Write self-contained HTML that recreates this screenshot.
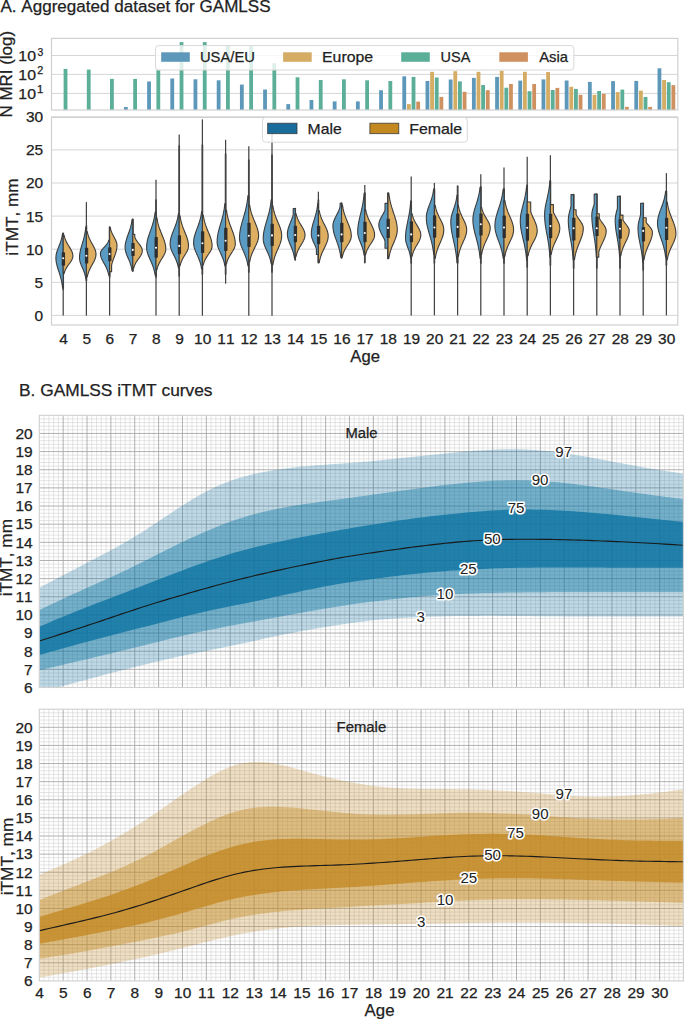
<!DOCTYPE html><html><head><meta charset="utf-8"><style>html,body{margin:0;padding:0;background:#fff;}svg{display:block;}text{font-family:"Liberation Sans", sans-serif;font-kerning:none;} text.s{stroke:#222;stroke-width:0.25px;}</style></head><body>
<svg width="685" height="1019" viewBox="0 0 685 1019">
<rect width="685" height="1019" fill="#fff"/>
<text class="s" x="0.47" y="11.8" font-size="16.3" fill="#222" textLength="270.12" lengthAdjust="spacingAndGlyphs">A. Aggregated dataset for GAMLSS</text>
<line x1="51.5" y1="55.5" x2="677.8" y2="55.5" stroke="#d6d6d6" stroke-width="1"/>
<line x1="51.5" y1="74.4" x2="677.8" y2="74.4" stroke="#d6d6d6" stroke-width="1"/>
<line x1="51.5" y1="93.4" x2="677.8" y2="93.4" stroke="#d6d6d6" stroke-width="1"/>
<rect x="63.62" y="68.9" width="3.8" height="41.1" fill="#5bae97"/>
<rect x="86.82" y="69.6" width="3.8" height="40.4" fill="#5bae97"/>
<rect x="110.02" y="78.9" width="3.8" height="31.1" fill="#5bae97"/>
<rect x="123.94" y="107" width="3.8" height="3" fill="#5d98ba"/>
<rect x="133.22" y="78.9" width="3.8" height="31.1" fill="#5bae97"/>
<rect x="147.14" y="81.5" width="3.8" height="28.5" fill="#5d98ba"/>
<rect x="156.42" y="70.2" width="3.8" height="39.8" fill="#5bae97"/>
<rect x="170.34" y="78.5" width="3.8" height="31.5" fill="#5d98ba"/>
<rect x="179.62" y="42.1" width="3.8" height="67.9" fill="#5bae97"/>
<rect x="193.54" y="79.3" width="3.8" height="30.7" fill="#5d98ba"/>
<rect x="202.82" y="42.1" width="3.8" height="67.9" fill="#5bae97"/>
<rect x="216.74" y="80.3" width="3.8" height="29.7" fill="#5d98ba"/>
<rect x="226.02" y="45.2" width="3.8" height="64.8" fill="#5bae97"/>
<rect x="239.94" y="84.6" width="3.8" height="25.4" fill="#5d98ba"/>
<rect x="249.22" y="46.2" width="3.8" height="63.8" fill="#5bae97"/>
<rect x="263.14" y="89.5" width="3.8" height="20.5" fill="#5d98ba"/>
<rect x="272.42" y="63.2" width="3.8" height="46.8" fill="#5bae97"/>
<rect x="286.34" y="104.1" width="3.8" height="5.9" fill="#5d98ba"/>
<rect x="295.62" y="77.3" width="3.8" height="32.7" fill="#5bae97"/>
<rect x="309.54" y="100" width="3.8" height="10" fill="#5d98ba"/>
<rect x="318.82" y="80" width="3.8" height="30" fill="#5bae97"/>
<rect x="332.74" y="101.4" width="3.8" height="8.6" fill="#5d98ba"/>
<rect x="342.02" y="79.3" width="3.8" height="30.7" fill="#5bae97"/>
<rect x="355.94" y="101.4" width="3.8" height="8.6" fill="#5d98ba"/>
<rect x="365.22" y="80.3" width="3.8" height="29.7" fill="#5bae97"/>
<rect x="379.14" y="90.2" width="3.8" height="19.8" fill="#5d98ba"/>
<rect x="388.42" y="81" width="3.8" height="29" fill="#5bae97"/>
<rect x="402.34" y="76.3" width="3.8" height="33.7" fill="#5d98ba"/>
<rect x="406.98" y="104.1" width="3.8" height="5.9" fill="#d5ac63"/>
<rect x="411.62" y="76.9" width="3.8" height="33.1" fill="#5bae97"/>
<rect x="416.26" y="101.6" width="3.8" height="8.4" fill="#cf915f"/>
<rect x="425.54" y="81" width="3.8" height="29" fill="#5d98ba"/>
<rect x="430.18" y="71.8" width="3.8" height="38.2" fill="#d5ac63"/>
<rect x="434.82" y="77.5" width="3.8" height="32.5" fill="#5bae97"/>
<rect x="439.46" y="96.9" width="3.8" height="13.1" fill="#cf915f"/>
<rect x="448.74" y="79.5" width="3.8" height="30.5" fill="#5d98ba"/>
<rect x="453.38" y="71.2" width="3.8" height="38.8" fill="#d5ac63"/>
<rect x="458.02" y="81.4" width="3.8" height="28.6" fill="#5bae97"/>
<rect x="462.66" y="91.8" width="3.8" height="18.2" fill="#cf915f"/>
<rect x="471.94" y="77.9" width="3.8" height="32.1" fill="#5d98ba"/>
<rect x="476.58" y="71.8" width="3.8" height="38.2" fill="#d5ac63"/>
<rect x="481.22" y="85" width="3.8" height="25" fill="#5bae97"/>
<rect x="485.86" y="90.2" width="3.8" height="19.8" fill="#cf915f"/>
<rect x="495.14" y="76.9" width="3.8" height="33.1" fill="#5d98ba"/>
<rect x="499.78" y="70.7" width="3.8" height="39.3" fill="#d5ac63"/>
<rect x="504.42" y="87.7" width="3.8" height="22.3" fill="#5bae97"/>
<rect x="509.06" y="84" width="3.8" height="26" fill="#cf915f"/>
<rect x="518.34" y="80.6" width="3.8" height="29.4" fill="#5d98ba"/>
<rect x="522.98" y="71.8" width="3.8" height="38.2" fill="#d5ac63"/>
<rect x="527.62" y="91.2" width="3.8" height="18.8" fill="#5bae97"/>
<rect x="532.26" y="84" width="3.8" height="26" fill="#cf915f"/>
<rect x="541.54" y="79.4" width="3.8" height="30.6" fill="#5d98ba"/>
<rect x="546.18" y="72" width="3.8" height="38" fill="#d5ac63"/>
<rect x="550.82" y="90" width="3.8" height="20" fill="#5bae97"/>
<rect x="555.46" y="87.9" width="3.8" height="22.1" fill="#cf915f"/>
<rect x="564.74" y="80.5" width="3.8" height="29.5" fill="#5d98ba"/>
<rect x="569.38" y="86.8" width="3.8" height="23.2" fill="#d5ac63"/>
<rect x="574.02" y="88.9" width="3.8" height="21.1" fill="#5bae97"/>
<rect x="578.66" y="94.8" width="3.8" height="15.2" fill="#cf915f"/>
<rect x="587.94" y="81.9" width="3.8" height="28.1" fill="#5d98ba"/>
<rect x="592.58" y="94.8" width="3.8" height="15.2" fill="#d5ac63"/>
<rect x="597.22" y="91" width="3.8" height="19" fill="#5bae97"/>
<rect x="601.86" y="93.8" width="3.8" height="16.2" fill="#cf915f"/>
<rect x="611.14" y="81.1" width="3.8" height="28.9" fill="#5d98ba"/>
<rect x="615.78" y="92.1" width="3.8" height="17.9" fill="#d5ac63"/>
<rect x="620.42" y="89.6" width="3.8" height="20.4" fill="#5bae97"/>
<rect x="625.06" y="106.9" width="3.8" height="3.1" fill="#cf915f"/>
<rect x="634.34" y="80.9" width="3.8" height="29.1" fill="#5d98ba"/>
<rect x="638.98" y="90.6" width="3.8" height="19.4" fill="#d5ac63"/>
<rect x="643.62" y="97" width="3.8" height="13" fill="#5bae97"/>
<rect x="648.26" y="106.9" width="3.8" height="3.1" fill="#cf915f"/>
<rect x="657.54" y="68.3" width="3.8" height="41.7" fill="#5d98ba"/>
<rect x="662.18" y="80" width="3.8" height="30" fill="#d5ac63"/>
<rect x="666.82" y="82.2" width="3.8" height="27.8" fill="#5bae97"/>
<rect x="671.46" y="85.1" width="3.8" height="24.9" fill="#cf915f"/>
<rect x="51.5" y="38.4" width="626.3" height="71.6" fill="none" stroke="#d0d0d0" stroke-width="1.2"/>
<rect x="155.5" y="45.6" width="418.4" height="24.4" rx="3" fill="#fff" fill-opacity="0.8" stroke="#d8d8d8" stroke-width="1"/>
<rect x="161.2" y="52.3" width="28.6" height="9.5" fill="#5d98ba"/>
<text class="s" x="199.96" y="61.8" font-size="14.6" fill="#222" textLength="54.98" lengthAdjust="spacingAndGlyphs">USA/EU</text>
<rect x="283.1" y="52.3" width="28.6" height="9.5" fill="#d5ac63"/>
<text class="s" x="322" y="61.8" font-size="14.6" fill="#222" textLength="51.1" lengthAdjust="spacingAndGlyphs">Europe</text>
<rect x="401.2" y="52.3" width="28.6" height="9.5" fill="#5bae97"/>
<text class="s" x="440.58" y="61.8" font-size="14.6" fill="#222" textLength="29.74" lengthAdjust="spacingAndGlyphs">USA</text>
<rect x="499.3" y="52.3" width="28.6" height="9.5" fill="#cf915f"/>
<text class="s" x="539.17" y="61.8" font-size="14.6" fill="#222" textLength="28.83" lengthAdjust="spacingAndGlyphs">Asia</text>
<text class="s" x="18.39" y="61.4" font-size="14.1" fill="#222" textLength="17.63" lengthAdjust="spacingAndGlyphs">10</text>
<text class="s" x="37.41" y="55.7" font-size="10" fill="#222" textLength="5.75" lengthAdjust="spacingAndGlyphs">3</text>
<text class="s" x="18.39" y="80" font-size="14.1" fill="#222" textLength="17.63" lengthAdjust="spacingAndGlyphs">10</text>
<text class="s" x="37.26" y="74.3" font-size="10" fill="#222" textLength="5.98" lengthAdjust="spacingAndGlyphs">2</text>
<text class="s" x="18.39" y="98.8" font-size="14.1" fill="#222" textLength="17.63" lengthAdjust="spacingAndGlyphs">10</text>
<text class="s" x="36.93" y="93.1" font-size="10" fill="#222" textLength="6.32" lengthAdjust="spacingAndGlyphs">1</text>
<text class="s" transform="translate(11.87,117.39) rotate(-90)" x="0" y="0" font-size="16.5" fill="#222" textLength="86.44" lengthAdjust="spacingAndGlyphs">N MRI (log)</text>
<line x1="51.5" y1="315.4" x2="677.8" y2="315.4" stroke="#d6d6d6" stroke-width="1"/>
<text class="s" x="43.2" y="320.8" font-size="14.2" text-anchor="end" fill="#222" textLength="8.6" lengthAdjust="spacingAndGlyphs">0</text>
<line x1="51.5" y1="282.3" x2="677.8" y2="282.3" stroke="#d6d6d6" stroke-width="1"/>
<text class="s" x="43.2" y="287.7" font-size="14.2" text-anchor="end" fill="#222" textLength="8.6" lengthAdjust="spacingAndGlyphs">5</text>
<line x1="51.5" y1="249.2" x2="677.8" y2="249.2" stroke="#d6d6d6" stroke-width="1"/>
<text class="s" x="43.2" y="254.6" font-size="14.2" text-anchor="end" fill="#222" textLength="17.2" lengthAdjust="spacingAndGlyphs">10</text>
<line x1="51.5" y1="216.1" x2="677.8" y2="216.1" stroke="#d6d6d6" stroke-width="1"/>
<text class="s" x="43.2" y="221.5" font-size="14.2" text-anchor="end" fill="#222" textLength="17.2" lengthAdjust="spacingAndGlyphs">15</text>
<line x1="51.5" y1="183" x2="677.8" y2="183" stroke="#d6d6d6" stroke-width="1"/>
<text class="s" x="43.2" y="188.4" font-size="14.2" text-anchor="end" fill="#222" textLength="17.2" lengthAdjust="spacingAndGlyphs">20</text>
<line x1="51.5" y1="149.9" x2="677.8" y2="149.9" stroke="#d6d6d6" stroke-width="1"/>
<text class="s" x="43.2" y="155.3" font-size="14.2" text-anchor="end" fill="#222" textLength="17.2" lengthAdjust="spacingAndGlyphs">25</text>
<line x1="51.5" y1="116.8" x2="677.8" y2="116.8" stroke="#d6d6d6" stroke-width="1"/>
<text class="s" x="43.2" y="122.2" font-size="14.2" text-anchor="end" fill="#222" textLength="17.2" lengthAdjust="spacingAndGlyphs">30</text>
<text class="s" transform="translate(18.32,255.65) rotate(-90)" x="0" y="0" font-size="16.5" fill="#222" textLength="77.18" lengthAdjust="spacingAndGlyphs">iTMT, mm</text>
<text class="s" x="63.5" y="344.2" font-size="14.2" text-anchor="middle" fill="#222" textLength="8.6" lengthAdjust="spacingAndGlyphs">4</text>
<text class="s" x="86.7" y="344.2" font-size="14.2" text-anchor="middle" fill="#222" textLength="8.6" lengthAdjust="spacingAndGlyphs">5</text>
<text class="s" x="109.9" y="344.2" font-size="14.2" text-anchor="middle" fill="#222" textLength="8.6" lengthAdjust="spacingAndGlyphs">6</text>
<text class="s" x="133.1" y="344.2" font-size="14.2" text-anchor="middle" fill="#222" textLength="8.6" lengthAdjust="spacingAndGlyphs">7</text>
<text class="s" x="156.3" y="344.2" font-size="14.2" text-anchor="middle" fill="#222" textLength="8.6" lengthAdjust="spacingAndGlyphs">8</text>
<text class="s" x="179.5" y="344.2" font-size="14.2" text-anchor="middle" fill="#222" textLength="8.6" lengthAdjust="spacingAndGlyphs">9</text>
<text class="s" x="202.7" y="344.2" font-size="14.2" text-anchor="middle" fill="#222" textLength="17.2" lengthAdjust="spacingAndGlyphs">10</text>
<text class="s" x="225.9" y="344.2" font-size="14.2" text-anchor="middle" fill="#222" textLength="17.2" lengthAdjust="spacingAndGlyphs">11</text>
<text class="s" x="249.1" y="344.2" font-size="14.2" text-anchor="middle" fill="#222" textLength="17.2" lengthAdjust="spacingAndGlyphs">12</text>
<text class="s" x="272.3" y="344.2" font-size="14.2" text-anchor="middle" fill="#222" textLength="17.2" lengthAdjust="spacingAndGlyphs">13</text>
<text class="s" x="295.5" y="344.2" font-size="14.2" text-anchor="middle" fill="#222" textLength="17.2" lengthAdjust="spacingAndGlyphs">14</text>
<text class="s" x="318.7" y="344.2" font-size="14.2" text-anchor="middle" fill="#222" textLength="17.2" lengthAdjust="spacingAndGlyphs">15</text>
<text class="s" x="341.9" y="344.2" font-size="14.2" text-anchor="middle" fill="#222" textLength="17.2" lengthAdjust="spacingAndGlyphs">16</text>
<text class="s" x="365.1" y="344.2" font-size="14.2" text-anchor="middle" fill="#222" textLength="17.2" lengthAdjust="spacingAndGlyphs">17</text>
<text class="s" x="388.3" y="344.2" font-size="14.2" text-anchor="middle" fill="#222" textLength="17.2" lengthAdjust="spacingAndGlyphs">18</text>
<text class="s" x="411.5" y="344.2" font-size="14.2" text-anchor="middle" fill="#222" textLength="17.2" lengthAdjust="spacingAndGlyphs">19</text>
<text class="s" x="434.7" y="344.2" font-size="14.2" text-anchor="middle" fill="#222" textLength="17.2" lengthAdjust="spacingAndGlyphs">20</text>
<text class="s" x="457.9" y="344.2" font-size="14.2" text-anchor="middle" fill="#222" textLength="17.2" lengthAdjust="spacingAndGlyphs">21</text>
<text class="s" x="481.1" y="344.2" font-size="14.2" text-anchor="middle" fill="#222" textLength="17.2" lengthAdjust="spacingAndGlyphs">22</text>
<text class="s" x="504.3" y="344.2" font-size="14.2" text-anchor="middle" fill="#222" textLength="17.2" lengthAdjust="spacingAndGlyphs">23</text>
<text class="s" x="527.5" y="344.2" font-size="14.2" text-anchor="middle" fill="#222" textLength="17.2" lengthAdjust="spacingAndGlyphs">24</text>
<text class="s" x="550.7" y="344.2" font-size="14.2" text-anchor="middle" fill="#222" textLength="17.2" lengthAdjust="spacingAndGlyphs">25</text>
<text class="s" x="573.9" y="344.2" font-size="14.2" text-anchor="middle" fill="#222" textLength="17.2" lengthAdjust="spacingAndGlyphs">26</text>
<text class="s" x="597.1" y="344.2" font-size="14.2" text-anchor="middle" fill="#222" textLength="17.2" lengthAdjust="spacingAndGlyphs">27</text>
<text class="s" x="620.3" y="344.2" font-size="14.2" text-anchor="middle" fill="#222" textLength="17.2" lengthAdjust="spacingAndGlyphs">28</text>
<text class="s" x="643.5" y="344.2" font-size="14.2" text-anchor="middle" fill="#222" textLength="17.2" lengthAdjust="spacingAndGlyphs">29</text>
<text class="s" x="666.7" y="344.2" font-size="14.2" text-anchor="middle" fill="#222" textLength="17.2" lengthAdjust="spacingAndGlyphs">30</text>
<text class="s" x="350.37" y="362" font-size="16.3" fill="#222" textLength="29.67" lengthAdjust="spacingAndGlyphs">Age</text>
<line x1="63.2" y1="233.3" x2="63.2" y2="315.6" stroke="#444" stroke-width="1.25"/>
<line x1="63.2" y1="233.3" x2="63.2" y2="289.3" stroke="#444" stroke-width="1.7" stroke-linecap="round"/>
<path d="M63.2,233.3L62.55,233.3 62.33,234.83 62.06,236.36 61.72,237.89 61.33,239.43 60.87,240.96 60.36,242.49 59.81,244.02 59.21,245.55 58.61,247.08 58.01,248.61 57.44,250.14 56.92,251.68 56.5,253.21 56.17,254.74 55.97,256.27 55.9,257.8 55.97,259.66 56.17,261.53 56.5,263.39 56.92,265.25 57.44,267.11 58.01,268.98 58.61,270.84 59.21,272.7 59.81,274.56 60.36,276.43 60.87,278.29 61.33,280.15 61.72,282.01 62.06,283.88 62.33,285.74 62.55,287.6 L63.2,287.6Z" fill="#5a9bc4" stroke="#3c3c3c" stroke-width="1.1" stroke-linejoin="round"/>
<path d="M63.2,235L64.06,235 64.36,236.31 64.72,237.62 65.16,238.94 65.69,240.25 66.29,241.56 66.97,242.88 67.71,244.19 68.5,245.5 69.3,246.81 70.1,248.12 70.86,249.44 71.54,250.75 72.11,252.06 72.54,253.38 72.81,254.69 72.9,256 72.81,257.1 72.54,258.2 72.11,259.3 71.54,260.4 70.86,261.5 70.1,262.6 69.3,263.7 68.5,264.8 67.71,265.9 66.97,267 66.29,268.1 65.69,269.2 65.16,270.3 64.72,271.4 64.36,272.5 64.06,273.6 L63.2,273.6Z" fill="#deaf60" stroke="#3c3c3c" stroke-width="1.1" stroke-linejoin="round"/>
<rect x="61.75" y="252.2" width="3.3" height="13.5" rx="0.7" fill="#2e2e2e"/>
<circle cx="63.2" cy="258.3" r="1.05" fill="#fff"/>
<line x1="86.4" y1="202.1" x2="86.4" y2="315.6" stroke="#444" stroke-width="1.25"/>
<line x1="86.4" y1="226" x2="86.4" y2="280.6" stroke="#444" stroke-width="1.7" stroke-linecap="round"/>
<path d="M86.4,227.2L85.79,227.2 85.58,229.11 85.32,231.02 85,232.94 84.63,234.85 84.2,236.76 83.72,238.68 83.19,240.59 82.63,242.5 82.06,244.41 81.49,246.32 80.95,248.24 80.47,250.15 80.06,252.06 79.76,253.98 79.56,255.89 79.5,257.8 79.56,259.11 79.76,260.43 80.06,261.74 80.47,263.05 80.95,264.36 81.49,265.68 82.06,266.99 82.63,268.3 83.19,269.61 83.72,270.93 84.2,272.24 84.63,273.55 85,274.86 85.32,276.18 85.58,277.49 85.79,278.8 L86.4,278.8Z" fill="#5a9bc4" stroke="#3c3c3c" stroke-width="1.1" stroke-linejoin="round"/>
<path d="M86.4,231.5L87.25,231.5 87.54,232.93 87.91,234.35 88.34,235.78 88.86,237.2 89.46,238.62 90.13,240.05 90.86,241.47 91.64,242.9 92.44,244.33 93.23,245.75 93.98,247.18 94.65,248.6 95.22,250.03 95.64,251.45 95.91,252.88 96,254.3 95.91,255.72 95.64,257.14 95.22,258.56 94.65,259.98 93.98,261.39 93.23,262.81 92.44,264.23 91.64,265.65 90.86,267.07 90.13,268.49 89.46,269.91 88.86,271.32 88.34,272.74 87.91,274.16 87.54,275.58 87.25,277 L86.4,277Z" fill="#deaf60" stroke="#3c3c3c" stroke-width="1.1" stroke-linejoin="round"/>
<rect x="84.95" y="247.7" width="3.3" height="15.7" rx="0.7" fill="#2e2e2e"/>
<circle cx="86.4" cy="255.7" r="1.05" fill="#fff"/>
<line x1="109.6" y1="227.2" x2="109.6" y2="315.6" stroke="#444" stroke-width="1.25"/>
<line x1="109.6" y1="227" x2="109.6" y2="277" stroke="#444" stroke-width="1.7" stroke-linecap="round"/>
<path d="M109.6,240.3L108.78,240.3 108.5,241.12 108.16,241.94 107.74,242.76 107.24,243.58 106.67,244.39 106.03,245.21 105.32,246.03 104.58,246.85 103.81,247.67 103.05,248.49 102.34,249.31 101.69,250.12 101.15,250.94 100.74,251.76 100.49,252.58 100.4,253.4 100.49,254.77 100.74,256.14 101.15,257.51 101.69,258.88 102.34,260.24 103.05,261.61 103.81,262.98 104.58,264.35 105.32,265.72 106.03,267.09 106.67,268.46 107.24,269.82 107.74,271.19 108.16,272.56 108.5,273.93 108.78,275.3 L109.6,275.3Z" fill="#5a9bc4" stroke="#3c3c3c" stroke-width="1.1" stroke-linejoin="round"/>
<path d="M109.6,227.2L110.26,227.2 110.48,228.34 110.76,229.49 111.1,230.63 111.5,231.77 111.96,232.92 112.48,234.06 113.04,235.21 113.64,236.35 114.26,237.49 114.87,238.64 115.44,239.78 115.96,240.93 116.4,242.07 116.73,243.21 116.93,244.36 117,245.5 116.93,247.14 116.73,248.79 116.4,250.43 115.96,252.07 115.44,253.72 114.87,255.36 114.26,257.01 113.64,258.65 113.04,260.29 112.48,261.94 111.96,263.58 111.6,265.23 111.6,266.87 111.6,268.51 111.6,270.16 111.6,271.8 L109.6,271.8Z" fill="#deaf60" stroke="#3c3c3c" stroke-width="1.1" stroke-linejoin="round"/>
<rect x="108.15" y="247.3" width="3.3" height="14" rx="0.7" fill="#2e2e2e"/>
<circle cx="109.6" cy="254" r="1.05" fill="#fff"/>
<line x1="132.8" y1="219.3" x2="132.8" y2="271" stroke="#444" stroke-width="1.25"/>
<line x1="132.8" y1="219.3" x2="132.8" y2="271" stroke="#444" stroke-width="1.7" stroke-linecap="round"/>
<path d="M132.8,219.3L132.12,219.3 131.88,221.05 131.59,222.8 131.24,224.55 130.83,226.3 130.35,228.05 129.81,229.8 129.22,231.55 128.6,233.3 127.95,235.05 127.32,236.8 126.72,238.55 126.18,240.3 125.73,242.05 125.39,243.8 125.17,245.55 125.1,247.3 125.17,248.78 125.39,250.26 125.73,251.74 126.18,253.23 126.72,254.71 127.32,256.19 127.95,257.67 128.6,259.15 129.22,260.63 129.81,262.11 130.35,263.59 130.83,265.07 131.24,266.56 131.59,268.04 131.88,269.52 132.12,271 L132.8,271Z" fill="#5a9bc4" stroke="#3c3c3c" stroke-width="1.1" stroke-linejoin="round"/>
<path d="M132.8,234.2L134.8,234.2 134.8,235.24 134.8,236.27 134.8,237.31 135.24,238.35 135.83,239.39 136.49,240.43 137.22,241.46 137.99,242.5 138.78,243.54 139.56,244.57 140.3,245.61 140.97,246.65 141.53,247.69 141.95,248.73 142.21,249.76 142.3,250.8 142.21,251.89 141.95,252.99 141.53,254.08 140.97,255.18 140.3,256.27 139.56,257.36 138.78,258.46 137.99,259.55 137.22,260.64 136.49,261.74 135.83,262.83 135.24,263.93 134.72,265.02 134.29,266.11 133.93,267.21 133.64,268.3 L132.8,268.3Z" fill="#deaf60" stroke="#3c3c3c" stroke-width="1.1" stroke-linejoin="round"/>
<rect x="131.35" y="242.9" width="3.3" height="13.2" rx="0.7" fill="#2e2e2e"/>
<circle cx="132.8" cy="249.9" r="1.05" fill="#fff"/>
<line x1="156" y1="179.7" x2="156" y2="315.6" stroke="#444" stroke-width="1.25"/>
<line x1="156" y1="200" x2="156" y2="277" stroke="#444" stroke-width="1.7" stroke-linecap="round"/>
<path d="M156,212L155.16,212 154.88,214.21 154.53,216.41 154.1,218.62 153.59,220.82 153.01,223.03 152.35,225.24 151.63,227.44 150.87,229.65 150.08,231.86 149.31,234.06 148.58,236.27 147.92,238.48 147.37,240.68 146.95,242.89 146.69,245.09 146.6,247.3 146.69,249.05 146.95,250.8 147.37,252.55 147.92,254.3 148.58,256.05 149.31,257.8 150.08,259.55 150.87,261.3 151.63,263.05 152.35,264.8 153.01,266.55 153.59,268.3 154.1,270.05 154.53,271.8 154.88,273.55 155.16,275.3 L156,275.3Z" fill="#5a9bc4" stroke="#3c3c3c" stroke-width="1.1" stroke-linejoin="round"/>
<path d="M156,217.5L156.87,217.5 157.17,219.47 157.54,221.44 157.98,223.41 158.51,225.38 159.12,227.34 159.81,229.31 160.56,231.28 161.35,233.25 162.17,235.22 162.97,237.19 163.74,239.16 164.42,241.12 165,243.09 165.44,245.06 165.71,247.03 165.8,249 165.71,250.31 165.44,251.62 165,252.94 164.42,254.25 163.74,255.56 162.97,256.88 162.17,258.19 161.35,259.5 160.56,260.81 159.81,262.12 159.12,263.44 158.51,264.75 157.98,266.06 157.54,267.38 157.17,268.69 156.87,270 L156,270Z" fill="#deaf60" stroke="#3c3c3c" stroke-width="1.1" stroke-linejoin="round"/>
<rect x="154.55" y="237.1" width="3.3" height="20.7" rx="0.7" fill="#2e2e2e"/>
<circle cx="156" cy="247.7" r="1.05" fill="#fff"/>
<line x1="179.2" y1="134.5" x2="179.2" y2="315.7" stroke="#444" stroke-width="1.25"/>
<line x1="179.2" y1="146" x2="179.2" y2="276" stroke="#444" stroke-width="1.7" stroke-linecap="round"/>
<path d="M179.2,213.6L178.39,213.6 178.12,215.49 177.77,217.39 177.36,219.28 176.87,221.18 176.3,223.07 175.66,224.96 174.97,226.86 174.23,228.75 173.47,230.64 172.72,232.54 172.02,234.43 171.38,236.32 170.84,238.22 170.44,240.11 170.19,242.01 170.1,243.9 170.19,245.41 170.44,246.91 170.84,248.42 171.38,249.93 172.02,251.43 172.72,252.94 173.47,254.44 174.23,255.95 174.97,257.46 175.66,258.96 176.3,260.47 176.87,261.98 177.36,263.48 177.77,264.99 178.12,266.49 178.39,268 L179.2,268Z" fill="#5a9bc4" stroke="#3c3c3c" stroke-width="1.1" stroke-linejoin="round"/>
<path d="M179.2,215.7L180.03,215.7 180.31,217.59 180.66,219.47 181.08,221.36 181.58,223.25 182.16,225.14 182.81,227.03 183.52,228.91 184.28,230.8 185.05,232.69 185.82,234.57 186.54,236.46 187.19,238.35 187.74,240.24 188.15,242.12 188.41,244.01 188.5,245.9 188.41,247.16 188.15,248.41 187.74,249.67 187.19,250.93 186.54,252.18 185.82,253.44 185.05,254.69 184.28,255.95 183.52,257.21 182.81,258.46 182.16,259.72 181.58,260.98 181.08,262.23 180.66,263.49 180.31,264.74 180.03,266 L179.2,266Z" fill="#deaf60" stroke="#3c3c3c" stroke-width="1.1" stroke-linejoin="round"/>
<rect x="177.75" y="235.2" width="3.3" height="19.1" rx="0.7" fill="#2e2e2e"/>
<circle cx="179.2" cy="245.9" r="1.05" fill="#fff"/>
<line x1="202.4" y1="119.4" x2="202.4" y2="315.7" stroke="#444" stroke-width="1.25"/>
<line x1="202.4" y1="145" x2="202.4" y2="274" stroke="#444" stroke-width="1.7" stroke-linecap="round"/>
<path d="M202.4,211.6L201.62,211.6 201.35,213.55 201.02,215.5 200.62,217.45 200.14,219.4 199.6,221.35 198.98,223.3 198.31,225.25 197.59,227.2 196.86,229.15 196.14,231.1 195.45,233.05 194.84,235 194.32,236.95 193.93,238.9 193.68,240.85 193.6,242.8 193.68,244.44 193.93,246.08 194.32,247.71 194.84,249.35 195.45,250.99 196.14,252.62 196.86,254.26 197.59,255.9 198.31,257.54 198.98,259.18 199.6,260.81 200.14,262.45 200.62,264.09 201.02,265.73 201.35,267.36 201.62,269 L202.4,269Z" fill="#5a9bc4" stroke="#3c3c3c" stroke-width="1.1" stroke-linejoin="round"/>
<path d="M202.4,215L203.26,215 203.56,216.93 203.92,218.86 204.36,220.79 204.89,222.72 205.49,224.66 206.17,226.59 206.91,228.52 207.7,230.45 208.5,232.38 209.3,234.31 210.06,236.24 210.74,238.18 211.31,240.11 211.74,242.04 212.01,243.97 212.1,245.9 212.01,247.09 211.74,248.29 211.31,249.48 210.74,250.68 210.06,251.87 209.3,253.06 208.5,254.26 207.7,255.45 206.91,256.64 206.17,257.84 205.49,259.03 204.89,260.23 204.36,261.42 203.92,262.61 203.56,263.81 203.26,265 L202.4,265Z" fill="#deaf60" stroke="#3c3c3c" stroke-width="1.1" stroke-linejoin="round"/>
<rect x="200.95" y="231.2" width="3.3" height="21.7" rx="0.7" fill="#2e2e2e"/>
<circle cx="202.4" cy="243.2" r="1.05" fill="#fff"/>
<line x1="225.6" y1="139.8" x2="225.6" y2="283.7" stroke="#444" stroke-width="1.25"/>
<line x1="225.6" y1="154" x2="225.6" y2="274" stroke="#444" stroke-width="1.7" stroke-linecap="round"/>
<path d="M225.6,203.6L224.84,203.6 224.59,205.99 224.27,208.38 223.88,210.76 223.42,213.15 222.89,215.54 222.3,217.93 221.65,220.31 220.96,222.7 220.25,225.09 219.55,227.47 218.89,229.86 218.29,232.25 217.79,234.64 217.42,237.03 217.18,239.41 217.1,241.8 217.18,243.31 217.42,244.83 217.79,246.34 218.29,247.85 218.89,249.36 219.55,250.88 220.25,252.39 220.96,253.9 221.65,255.41 222.3,256.93 222.89,258.44 223.42,259.95 223.88,261.46 224.27,262.98 224.59,264.49 224.84,266 L225.6,266Z" fill="#5a9bc4" stroke="#3c3c3c" stroke-width="1.1" stroke-linejoin="round"/>
<path d="M225.6,210L226.46,210 226.76,212.12 227.12,214.24 227.56,216.36 228.09,218.47 228.69,220.59 229.37,222.71 230.11,224.83 230.9,226.95 231.7,229.07 232.5,231.19 233.26,233.31 233.94,235.43 234.51,237.54 234.94,239.66 235.21,241.78 235.3,243.9 235.21,245.16 234.94,246.41 234.51,247.67 233.94,248.93 233.26,250.18 232.5,251.44 231.7,252.69 230.9,253.95 230.11,255.21 229.37,256.46 228.69,257.72 228.09,258.98 227.56,260.23 227.12,261.49 226.76,262.74 226.46,264 L225.6,264Z" fill="#deaf60" stroke="#3c3c3c" stroke-width="1.1" stroke-linejoin="round"/>
<rect x="224.15" y="227.7" width="3.3" height="23.2" rx="0.7" fill="#2e2e2e"/>
<circle cx="225.6" cy="240.8" r="1.05" fill="#fff"/>
<line x1="248.8" y1="146.2" x2="248.8" y2="315.7" stroke="#444" stroke-width="1.25"/>
<line x1="248.8" y1="160" x2="248.8" y2="272" stroke="#444" stroke-width="1.7" stroke-linecap="round"/>
<path d="M248.8,195.5L247.97,195.5 247.69,198.14 247.34,200.79 246.92,203.43 246.42,206.07 245.84,208.72 245.19,211.36 244.48,214.01 243.72,216.65 242.95,219.29 242.18,221.94 241.46,224.58 240.81,227.23 240.26,229.87 239.85,232.51 239.59,235.16 239.5,237.8 239.59,239.56 239.85,241.33 240.26,243.09 240.81,244.85 241.46,246.61 242.18,248.38 242.95,250.14 243.72,251.9 244.48,253.66 245.19,255.43 245.84,257.19 246.42,258.95 246.92,260.71 247.34,262.48 247.69,264.24 247.97,266 L248.8,266Z" fill="#5a9bc4" stroke="#3c3c3c" stroke-width="1.1" stroke-linejoin="round"/>
<path d="M248.8,205L249.67,205 249.97,206.93 250.34,208.85 250.78,210.78 251.31,212.7 251.92,214.62 252.61,216.55 253.36,218.47 254.15,220.4 254.97,222.33 255.77,224.25 256.54,226.18 257.22,228.1 257.8,230.03 258.24,231.95 258.51,233.88 258.6,235.8 258.51,237.44 258.24,239.08 257.8,240.71 257.22,242.35 256.54,243.99 255.77,245.62 254.97,247.26 254.15,248.9 253.36,250.54 252.61,252.18 251.92,253.81 251.31,255.45 250.78,257.09 250.34,258.73 249.97,260.36 249.67,262 L248.8,262Z" fill="#deaf60" stroke="#3c3c3c" stroke-width="1.1" stroke-linejoin="round"/>
<rect x="247.35" y="222.7" width="3.3" height="24.2" rx="0.7" fill="#2e2e2e"/>
<circle cx="248.8" cy="235.8" r="1.05" fill="#fff"/>
<line x1="272" y1="132" x2="272" y2="315.7" stroke="#444" stroke-width="1.25"/>
<line x1="272" y1="155" x2="272" y2="272" stroke="#444" stroke-width="1.7" stroke-linecap="round"/>
<path d="M272,199.6L271.22,199.6 270.95,202.05 270.62,204.5 270.22,206.95 269.74,209.4 269.2,211.85 268.58,214.3 267.91,216.75 267.19,219.2 266.46,221.65 265.74,224.1 265.05,226.55 264.44,229 263.92,231.45 263.53,233.9 263.28,236.35 263.2,238.8 263.28,240.38 263.53,241.95 263.92,243.53 264.44,245.1 265.05,246.68 265.74,248.25 266.46,249.83 267.19,251.4 267.91,252.97 268.58,254.55 269.2,256.12 269.74,257.7 270.22,259.27 270.62,260.85 270.95,262.43 271.22,264 L272,264Z" fill="#5a9bc4" stroke="#3c3c3c" stroke-width="1.1" stroke-linejoin="round"/>
<path d="M272,205.6L272.86,205.6 273.16,207.49 273.52,209.38 273.96,211.26 274.49,213.15 275.09,215.04 275.77,216.93 276.51,218.81 277.3,220.7 278.1,222.59 278.9,224.47 279.66,226.36 280.34,228.25 280.91,230.14 281.34,232.03 281.61,233.91 281.7,235.8 281.61,237.62 281.34,239.45 280.91,241.28 280.34,243.1 279.66,244.93 278.9,246.75 278.1,248.58 277.3,250.4 276.51,252.22 275.77,254.05 275.09,255.88 274.49,257.7 273.96,259.52 273.52,261.35 273.16,263.18 272.86,265 L272,265Z" fill="#deaf60" stroke="#3c3c3c" stroke-width="1.1" stroke-linejoin="round"/>
<rect x="270.55" y="223.7" width="3.3" height="22.2" rx="0.7" fill="#2e2e2e"/>
<circle cx="272" cy="235.4" r="1.05" fill="#fff"/>
<line x1="295.2" y1="208.5" x2="295.2" y2="260" stroke="#444" stroke-width="1.25"/>
<line x1="295.2" y1="208.5" x2="295.2" y2="260" stroke="#444" stroke-width="1.7" stroke-linecap="round"/>
<path d="M295.2,208.5L293.2,208.5 293.2,210.09 293.2,211.69 293.2,213.28 293.2,214.88 292.71,216.47 292.17,218.06 291.57,219.66 290.94,221.25 290.29,222.84 289.65,224.44 289.04,226.03 288.49,227.62 288.04,229.22 287.69,230.81 287.47,232.41 287.4,234 287.47,235.53 287.69,237.06 288.04,238.59 288.49,240.12 289.04,241.66 289.65,243.19 290.29,244.72 290.94,246.25 291.57,247.78 292.17,249.31 292.71,250.84 293.2,252.38 293.62,253.91 293.98,255.44 294.27,256.97 294.51,258.5 L295.2,258.5Z" fill="#5a9bc4" stroke="#3c3c3c" stroke-width="1.1" stroke-linejoin="round"/>
<path d="M295.2,213.6L296.07,213.6 296.37,214.94 296.74,216.28 297.18,217.61 297.71,218.95 298.32,220.29 299.01,221.62 299.76,222.96 300.55,224.3 301.37,225.64 302.17,226.97 302.94,228.31 303.62,229.65 304.2,230.99 304.64,232.32 304.91,233.66 305,235 304.91,236.34 304.64,237.69 304.2,239.03 303.62,240.38 302.94,241.72 302.17,243.06 301.37,244.41 300.55,245.75 299.76,247.09 299.01,248.44 298.32,249.78 297.71,251.12 297.18,252.47 296.74,253.81 296.37,255.16 296.07,256.5 L295.2,256.5Z" fill="#deaf60" stroke="#3c3c3c" stroke-width="1.1" stroke-linejoin="round"/>
<rect x="293.75" y="225.8" width="3.3" height="16.4" rx="0.7" fill="#2e2e2e"/>
<circle cx="295.2" cy="235" r="1.05" fill="#fff"/>
<line x1="318.4" y1="191.7" x2="318.4" y2="262.6" stroke="#444" stroke-width="1.25"/>
<line x1="318.4" y1="200" x2="318.4" y2="262.6" stroke="#444" stroke-width="1.7" stroke-linecap="round"/>
<path d="M318.4,203.4L317.77,203.4 317.55,205.31 317.29,207.22 316.96,209.14 316.58,211.05 316.14,212.96 315.64,214.88 315.1,216.79 314.52,218.7 313.93,220.61 313.35,222.53 312.79,224.44 312.3,226.35 311.88,228.26 311.56,230.18 311.37,232.09 311.3,234 311.37,235.28 311.56,236.56 311.88,237.84 312.3,239.12 312.79,240.41 313.35,241.69 313.93,242.97 314.52,244.25 315.1,245.53 315.64,246.81 316.14,248.09 316.4,249.38 316.4,250.66 316.4,251.94 316.4,253.22 316.4,254.5 L318.4,254.5Z" fill="#5a9bc4" stroke="#3c3c3c" stroke-width="1.1" stroke-linejoin="round"/>
<path d="M318.4,210.5L319.27,210.5 319.57,212.09 319.94,213.69 320.38,215.28 320.91,216.88 321.52,218.47 322.21,220.06 322.96,221.66 323.75,223.25 324.57,224.84 325.37,226.44 326.14,228.03 326.82,229.62 327.4,231.22 327.84,232.81 328.11,234.41 328.2,236 328.11,237.66 327.84,239.32 327.4,240.99 326.82,242.65 326.14,244.31 325.37,245.98 324.57,247.64 323.75,249.3 322.96,250.96 322.21,252.62 321.52,254.29 320.91,255.95 320.38,257.61 319.94,259.28 319.57,260.94 319.27,262.6 L318.4,262.6Z" fill="#deaf60" stroke="#3c3c3c" stroke-width="1.1" stroke-linejoin="round"/>
<rect x="316.95" y="225.8" width="3.3" height="18.4" rx="0.7" fill="#2e2e2e"/>
<circle cx="318.4" cy="235.6" r="1.05" fill="#fff"/>
<line x1="341.6" y1="203.4" x2="341.6" y2="258" stroke="#444" stroke-width="1.25"/>
<line x1="341.6" y1="203" x2="341.6" y2="258" stroke="#444" stroke-width="1.7" stroke-linecap="round"/>
<path d="M341.6,203.4L340.1,203.4 340.1,204.8 340.1,206.2 339.84,207.6 339.37,209 338.83,210.4 338.22,211.8 337.55,213.2 336.85,214.6 336.13,216 335.41,217.4 334.73,218.8 334.12,220.2 333.61,221.6 333.22,223 332.98,224.4 332.9,225.8 332.98,227.78 333.22,229.76 333.61,231.74 334.12,233.73 334.73,235.71 335.41,237.69 336.13,239.67 336.85,241.65 337.55,243.63 338.22,245.61 338.83,247.59 339.37,249.57 339.84,251.56 340.24,253.54 340.56,255.52 340.83,257.5 L341.6,257.5Z" fill="#5a9bc4" stroke="#3c3c3c" stroke-width="1.1" stroke-linejoin="round"/>
<path d="M341.6,205L342.46,205 342.76,206.94 343.12,208.88 343.56,210.81 344.09,212.75 344.69,214.69 345.37,216.62 346.11,218.56 346.9,220.5 347.7,222.44 348.5,224.38 349.26,226.31 349.94,228.25 350.51,230.19 350.94,232.12 351.21,234.06 351.3,236 351.21,237.28 350.94,238.56 350.51,239.84 349.94,241.12 349.26,242.41 348.5,243.69 347.7,244.97 346.9,246.25 346.11,247.53 345.37,248.81 344.69,250.09 344.09,251.38 343.56,252.66 343.12,253.94 342.76,255.22 342.46,256.5 L341.6,256.5Z" fill="#deaf60" stroke="#3c3c3c" stroke-width="1.1" stroke-linejoin="round"/>
<rect x="340.15" y="222.8" width="3.3" height="19.4" rx="0.7" fill="#2e2e2e"/>
<circle cx="341.6" cy="234.4" r="1.05" fill="#fff"/>
<line x1="364.8" y1="185" x2="364.8" y2="262.6" stroke="#444" stroke-width="1.25"/>
<line x1="364.8" y1="193" x2="364.8" y2="262.6" stroke="#444" stroke-width="1.7" stroke-linecap="round"/>
<path d="M364.8,193.1L364.17,193.1 363.95,195.53 363.69,197.96 363.36,200.39 362.98,202.82 362.54,205.26 362.04,207.69 361.5,210.12 360.92,212.55 360.33,214.98 359.75,217.41 359.19,219.84 358.7,222.28 358.28,224.71 357.96,227.14 357.77,229.57 357.7,232 357.77,233.47 357.96,234.94 358.28,236.41 358.7,237.88 359.19,239.34 359.75,240.81 360.33,242.28 360.92,243.75 361.5,245.22 362.04,246.69 362.54,248.16 362.98,249.62 363.36,251.09 363.69,252.56 363.95,254.03 364.17,255.5 L364.8,255.5Z" fill="#5a9bc4" stroke="#3c3c3c" stroke-width="1.1" stroke-linejoin="round"/>
<path d="M364.8,209.5L365.67,209.5 365.97,211.09 366.34,212.69 366.78,214.28 367.31,215.88 367.92,217.47 368.61,219.06 369.36,220.66 370.15,222.25 370.97,223.84 371.77,225.44 372.54,227.03 373.22,228.62 373.8,230.22 374.24,231.81 374.51,233.41 374.6,235 374.51,236.22 374.24,237.44 373.8,238.66 373.22,239.88 372.54,241.09 371.77,242.31 370.97,243.53 370.15,244.75 369.36,245.97 368.61,247.19 367.92,248.41 367.31,249.62 366.78,250.84 366.34,252.06 365.97,253.28 365.67,254.5 L364.8,254.5Z" fill="#deaf60" stroke="#3c3c3c" stroke-width="1.1" stroke-linejoin="round"/>
<rect x="363.35" y="221.8" width="3.3" height="20.4" rx="0.7" fill="#2e2e2e"/>
<circle cx="364.8" cy="233" r="1.05" fill="#fff"/>
<line x1="388" y1="193" x2="388" y2="258.5" stroke="#444" stroke-width="1.25"/>
<line x1="388" y1="193" x2="388" y2="258.5" stroke="#444" stroke-width="1.7" stroke-linecap="round"/>
<path d="M388,203.4L385,203.4 385,204.75 385,206.1 385,207.45 385,208.8 385,210.15 384.43,211.5 383.72,212.85 382.98,214.2 382.21,215.55 381.45,216.9 380.74,218.25 380.09,219.6 379.55,220.95 379.14,222.3 378.89,223.65 378.8,225 378.89,226.46 379.14,227.91 379.55,229.37 380.09,230.82 380.74,232.28 381.45,233.74 382.21,235.19 382.98,236.65 383.72,238.11 384.43,239.56 385,241.02 385,242.48 385,243.93 385,245.39 385,246.84 385,248.3 L388,248.3Z" fill="#5a9bc4" stroke="#3c3c3c" stroke-width="1.1" stroke-linejoin="round"/>
<path d="M388,193.1L388.83,193.1 389.11,195.4 389.46,197.7 389.88,200 390.38,202.3 390.96,204.6 391.61,206.9 392.32,209.2 393.08,211.5 393.85,213.8 394.62,216.1 395.34,218.4 395.99,220.7 396.54,223 396.95,225.3 397.21,227.6 397.3,229.9 397.21,231.69 396.95,233.47 396.54,235.26 395.99,237.05 395.34,238.84 394.62,240.62 393.85,242.41 393.08,244.2 392.32,245.99 391.61,247.78 390.96,249.56 390.38,251.35 389.88,253.14 389.46,254.93 389.11,256.71 388.83,258.5 L388,258.5Z" fill="#deaf60" stroke="#3c3c3c" stroke-width="1.1" stroke-linejoin="round"/>
<rect x="386.55" y="218.7" width="3.3" height="19.4" rx="0.7" fill="#2e2e2e"/>
<circle cx="388" cy="227.9" r="1.05" fill="#fff"/>
<line x1="411.2" y1="176.4" x2="411.2" y2="315.4" stroke="#444" stroke-width="1.25"/>
<line x1="411.2" y1="201" x2="411.2" y2="263" stroke="#444" stroke-width="1.7" stroke-linecap="round"/>
<path d="M411.2,201.3L410.69,201.3 410.52,203.6 410.31,205.9 410.05,208.2 409.74,210.5 409.38,212.8 408.99,215.1 408.55,217.4 408.09,219.7 407.61,222 407.14,224.3 406.7,226.6 406.3,228.9 405.96,231.2 405.71,233.5 405.55,235.8 405.5,238.1 405.55,239.38 405.71,240.65 405.96,241.92 406.3,243.2 406.7,244.47 407.14,245.75 407.61,247.03 408.09,248.3 408.55,249.57 408.99,250.85 409.38,252.12 409.74,253.4 410.05,254.68 410.31,255.95 410.52,257.23 410.69,258.5 L411.2,258.5Z" fill="#5a9bc4" stroke="#3c3c3c" stroke-width="1.1" stroke-linejoin="round"/>
<path d="M411.2,213.6L412.05,213.6 412.34,214.94 412.71,216.28 413.14,217.61 413.66,218.95 414.26,220.29 414.93,221.62 415.66,222.96 416.44,224.3 417.24,225.64 418.03,226.97 418.78,228.31 419.45,229.65 420.02,230.99 420.44,232.32 420.71,233.66 420.8,235 420.71,236.34 420.44,237.69 420.02,239.03 419.45,240.38 418.78,241.72 418.03,243.06 417.24,244.41 416.44,245.75 415.66,247.09 414.93,248.44 414.26,249.78 413.66,251.12 413.14,252.47 412.71,253.81 412.34,255.16 412.05,256.5 L411.2,256.5Z" fill="#deaf60" stroke="#3c3c3c" stroke-width="1.1" stroke-linejoin="round"/>
<rect x="409.75" y="221.3" width="3.3" height="20.9" rx="0.7" fill="#2e2e2e"/>
<circle cx="411.2" cy="234.4" r="1.05" fill="#fff"/>
<line x1="434.4" y1="182.9" x2="434.4" y2="315.4" stroke="#444" stroke-width="1.25"/>
<line x1="434.4" y1="189" x2="434.4" y2="263" stroke="#444" stroke-width="1.7" stroke-linecap="round"/>
<path d="M434.4,189L433.68,189 433.43,190.79 433.13,192.59 432.76,194.38 432.32,196.18 431.82,197.97 431.25,199.76 430.63,201.56 429.98,203.35 429.3,205.14 428.64,206.94 428,208.73 427.44,210.52 426.96,212.32 426.6,214.11 426.38,215.91 426.3,217.7 426.38,220 426.6,222.3 426.96,224.6 427.44,226.9 428,229.2 428.64,231.5 429.3,233.8 429.98,236.1 430.63,238.4 431.25,240.7 431.82,243 432.32,245.3 432.76,247.6 433.13,249.9 433.43,252.2 433.68,254.5 L434.4,254.5Z" fill="#5a9bc4" stroke="#3c3c3c" stroke-width="1.1" stroke-linejoin="round"/>
<path d="M434.4,205.4L435.24,205.4 435.52,206.93 435.87,208.46 436.3,209.99 436.81,211.53 437.39,213.06 438.05,214.59 438.77,216.12 439.53,217.65 440.32,219.18 441.09,220.71 441.82,222.24 442.48,223.78 443.03,225.31 443.45,226.84 443.71,228.37 443.8,229.9 443.71,231.69 443.45,233.47 443.03,235.26 442.48,237.05 441.82,238.84 441.09,240.62 440.32,242.41 439.53,244.2 438.77,245.99 438.05,247.78 437.39,249.56 436.81,251.35 436.3,253.14 435.87,254.93 435.52,256.71 435.24,258.5 L434.4,258.5Z" fill="#deaf60" stroke="#3c3c3c" stroke-width="1.1" stroke-linejoin="round"/>
<rect x="432.95" y="215.2" width="3.3" height="22.5" rx="0.7" fill="#2e2e2e"/>
<circle cx="434.4" cy="227.5" r="1.05" fill="#fff"/>
<line x1="457.6" y1="186" x2="457.6" y2="315.4" stroke="#444" stroke-width="1.25"/>
<line x1="457.6" y1="186" x2="457.6" y2="263" stroke="#444" stroke-width="1.7" stroke-linecap="round"/>
<path d="M457.6,195L457,195 456.79,196.67 456.53,198.34 456.22,200.01 455.86,201.68 455.43,203.34 454.96,205.01 454.44,206.68 453.89,208.35 453.32,210.02 452.76,211.69 452.23,213.36 451.75,215.02 451.35,216.69 451.05,218.36 450.86,220.03 450.8,221.7 450.86,224.26 451.05,226.81 451.35,229.37 451.75,231.93 452.23,234.48 452.76,237.04 453.32,239.59 453.89,242.15 454.44,244.71 454.96,247.26 455.43,249.82 455.86,252.38 456.22,254.93 456.53,257.49 456.79,260.04 457,262.6 L457.6,262.6Z" fill="#5a9bc4" stroke="#3c3c3c" stroke-width="1.1" stroke-linejoin="round"/>
<path d="M457.6,205.4L458.41,205.4 458.68,206.93 459.03,208.46 459.44,209.99 459.93,211.53 460.5,213.06 461.14,214.59 461.83,216.12 462.57,217.65 463.33,219.18 464.08,220.71 464.78,222.24 465.42,223.78 465.96,225.31 466.36,226.84 466.61,228.37 466.7,229.9 466.61,231.56 466.36,233.22 465.96,234.89 465.42,236.55 464.78,238.21 464.08,239.88 463.33,241.54 462.57,243.2 461.83,244.86 461.14,246.53 460.5,248.19 459.93,249.85 459.44,251.51 459.03,253.18 458.68,254.84 458.41,256.5 L457.6,256.5Z" fill="#deaf60" stroke="#3c3c3c" stroke-width="1.1" stroke-linejoin="round"/>
<rect x="456.15" y="213.6" width="3.3" height="24.1" rx="0.7" fill="#2e2e2e"/>
<circle cx="457.6" cy="226.9" r="1.05" fill="#fff"/>
<line x1="480.8" y1="174.3" x2="480.8" y2="315.4" stroke="#444" stroke-width="1.25"/>
<line x1="480.8" y1="187" x2="480.8" y2="263" stroke="#444" stroke-width="1.7" stroke-linecap="round"/>
<path d="M480.8,187L480.1,187 479.86,189.04 479.56,191.09 479.2,193.13 478.77,195.18 478.28,197.22 477.73,199.26 477.13,201.31 476.49,203.35 475.83,205.39 475.18,207.44 474.56,209.48 474.01,211.52 473.54,213.57 473.19,215.61 472.97,217.66 472.9,219.7 472.97,222.12 473.19,224.55 473.54,226.97 474.01,229.4 474.56,231.82 475.18,234.25 475.83,236.67 476.49,239.1 477.13,241.53 477.73,243.95 478.28,246.38 478.77,248.8 479.2,251.22 479.56,253.65 479.86,256.07 480.1,258.5 L480.8,258.5Z" fill="#5a9bc4" stroke="#3c3c3c" stroke-width="1.1" stroke-linejoin="round"/>
<path d="M480.8,207.4L481.64,207.4 481.92,208.68 482.27,209.96 482.7,211.24 483.21,212.53 483.79,213.81 484.45,215.09 485.17,216.37 485.93,217.65 486.72,218.93 487.49,220.21 488.22,221.49 488.88,222.78 489.43,224.06 489.85,225.34 490.11,226.62 490.2,227.9 490.11,229.56 489.85,231.22 489.43,232.89 488.88,234.55 488.22,236.21 487.49,237.88 486.72,239.54 485.93,241.2 485.17,242.86 484.45,244.53 483.79,246.19 483.21,247.85 482.7,249.51 482.27,251.18 481.92,252.84 481.64,254.5 L480.8,254.5Z" fill="#deaf60" stroke="#3c3c3c" stroke-width="1.1" stroke-linejoin="round"/>
<rect x="479.35" y="213.6" width="3.3" height="22" rx="0.7" fill="#2e2e2e"/>
<circle cx="480.8" cy="224.2" r="1.05" fill="#fff"/>
<line x1="504" y1="167.6" x2="504" y2="315.4" stroke="#444" stroke-width="1.25"/>
<line x1="504" y1="189" x2="504" y2="263" stroke="#444" stroke-width="1.7" stroke-linecap="round"/>
<path d="M504,189L503.19,189 502.92,191.3 502.57,193.6 502.16,195.9 501.67,198.2 501.1,200.5 500.46,202.8 499.77,205.1 499.03,207.4 498.27,209.7 497.52,212 496.82,214.3 496.18,216.6 495.64,218.9 495.24,221.2 494.99,223.5 494.9,225.8 494.99,227.84 495.24,229.89 495.64,231.93 496.18,233.98 496.82,236.02 497.52,238.06 498.27,240.11 499.03,242.15 499.77,244.19 500.46,246.24 501.1,248.28 501.67,250.32 502.16,252.37 502.57,254.41 502.92,256.46 503.19,258.5 L504,258.5Z" fill="#5a9bc4" stroke="#3c3c3c" stroke-width="1.1" stroke-linejoin="round"/>
<path d="M504,200.3L504.85,200.3 505.14,202.15 505.51,204 505.94,205.85 506.46,207.7 507.06,209.55 507.73,211.4 508.46,213.25 509.24,215.1 510.04,216.95 510.83,218.8 511.58,220.65 512.25,222.5 512.82,224.35 513.24,226.2 513.51,228.05 513.6,229.9 513.51,231.56 513.24,233.22 512.82,234.89 512.25,236.55 511.58,238.21 510.83,239.88 510.04,241.54 509.24,243.2 508.46,244.86 507.73,246.53 507.06,248.19 506.46,249.85 505.94,251.51 505.51,253.18 505.14,254.84 504.85,256.5 L504,256.5Z" fill="#deaf60" stroke="#3c3c3c" stroke-width="1.1" stroke-linejoin="round"/>
<rect x="502.55" y="215.6" width="3.3" height="22.5" rx="0.7" fill="#2e2e2e"/>
<circle cx="504" cy="227.5" r="1.05" fill="#fff"/>
<line x1="527.2" y1="156.8" x2="527.2" y2="315.4" stroke="#444" stroke-width="1.25"/>
<line x1="527.2" y1="185" x2="527.2" y2="267" stroke="#444" stroke-width="1.7" stroke-linecap="round"/>
<path d="M527.2,186L526.59,186 526.38,188.19 526.12,190.38 525.8,192.56 525.43,194.75 525,196.94 524.52,199.12 523.99,201.31 523.43,203.5 522.86,205.69 522.29,207.88 521.75,210.06 521.27,212.25 520.86,214.44 520.56,216.62 520.36,218.81 520.3,221 520.36,223.44 520.56,225.88 520.86,228.31 521.27,230.75 521.75,233.19 522.29,235.62 522.86,238.06 523.43,240.5 523.99,242.94 524.52,245.38 525,247.81 525.43,250.25 525.8,252.69 526.12,255.12 526.38,257.56 526.59,260 L527.2,260Z" fill="#5a9bc4" stroke="#3c3c3c" stroke-width="1.1" stroke-linejoin="round"/>
<path d="M527.2,202L530.7,202 530.7,203.81 530.7,205.61 530.7,207.42 530.7,209.22 530.7,211.03 531.09,212.84 531.85,214.64 532.66,216.45 533.49,218.26 534.32,220.06 535.1,221.87 535.8,223.68 536.38,225.48 536.83,227.29 537.11,229.09 537.2,230.9 537.11,232.46 536.83,234.01 536.38,235.57 535.8,237.12 535.1,238.68 534.32,240.24 533.49,241.79 532.66,243.35 531.85,244.91 531.09,246.46 530.39,248.02 529.76,249.58 529.22,251.13 528.77,252.69 528.39,254.24 528.09,255.8 L527.2,255.8Z" fill="#deaf60" stroke="#3c3c3c" stroke-width="1.1" stroke-linejoin="round"/>
<rect x="525.75" y="213.7" width="3.3" height="27" rx="0.7" fill="#2e2e2e"/>
<circle cx="527.2" cy="227.8" r="1.05" fill="#fff"/>
<line x1="550.4" y1="155.2" x2="550.4" y2="315.4" stroke="#444" stroke-width="1.25"/>
<line x1="550.4" y1="181" x2="550.4" y2="265" stroke="#444" stroke-width="1.7" stroke-linecap="round"/>
<path d="M550.4,180.9L549.88,180.9 549.71,183.04 549.49,185.18 549.23,187.31 548.91,189.45 548.55,191.59 548.15,193.72 547.7,195.86 547.23,198 546.75,200.14 546.27,202.28 545.82,204.41 545.41,206.55 545.07,208.69 544.82,210.82 544.65,212.96 544.6,215.1 544.65,217.72 544.82,220.35 545.07,222.97 545.41,225.6 545.82,228.22 546.27,230.85 546.75,233.48 547.23,236.1 547.7,238.73 548.15,241.35 548.55,243.98 548.91,246.6 549.23,249.23 549.49,251.85 549.71,254.48 549.88,257.1 L550.4,257.1Z" fill="#5a9bc4" stroke="#3c3c3c" stroke-width="1.1" stroke-linejoin="round"/>
<path d="M550.4,204.6L553.4,204.6 553.4,206.07 553.4,207.55 553.4,209.03 553.4,210.5 553.4,211.97 554.05,213.45 554.77,214.92 555.53,216.4 556.32,217.88 557.09,219.35 557.82,220.82 558.48,222.3 559.03,223.77 559.45,225.25 559.71,226.72 559.8,228.2 559.71,229.84 559.45,231.49 559.03,233.13 558.48,234.77 557.82,236.42 557.09,238.06 556.32,239.71 555.53,241.35 554.77,242.99 554.05,244.64 553.39,246.28 552.81,247.93 552.3,249.57 551.87,251.21 551.52,252.86 551.24,254.5 L550.4,254.5Z" fill="#deaf60" stroke="#3c3c3c" stroke-width="1.1" stroke-linejoin="round"/>
<rect x="548.95" y="213.8" width="3.3" height="24.4" rx="0.7" fill="#2e2e2e"/>
<circle cx="550.4" cy="226.1" r="1.05" fill="#fff"/>
<line x1="573.6" y1="194.6" x2="573.6" y2="315.4" stroke="#444" stroke-width="1.25"/>
<line x1="573.6" y1="194.6" x2="573.6" y2="268" stroke="#444" stroke-width="1.7" stroke-linecap="round"/>
<path d="M573.6,194.6L571,194.6 571,196.21 571,197.82 571,199.44 571,201.05 571,202.66 571,204.28 571,205.89 570.71,207.5 570.26,209.11 569.83,210.72 569.42,212.34 569.04,213.95 568.73,215.56 568.5,217.18 568.35,218.79 568.3,220.4 568.35,222.86 568.5,225.33 568.73,227.79 569.04,230.25 569.42,232.71 569.83,235.18 570.26,237.64 570.71,240.1 571.14,242.56 571.54,245.03 571.91,247.49 572.24,249.95 572.53,252.41 572.77,254.88 572.97,257.34 573.13,259.8 L573.6,259.8Z" fill="#5a9bc4" stroke="#3c3c3c" stroke-width="1.1" stroke-linejoin="round"/>
<path d="M573.6,209.8L576.1,209.8 576.1,210.95 576.1,212.1 576.1,213.25 576.1,214.4 576.69,215.55 577.37,216.7 578.11,217.85 578.9,219 579.7,220.15 580.5,221.3 581.26,222.45 581.94,223.6 582.51,224.75 582.94,225.9 583.21,227.05 583.3,228.2 583.21,230.17 582.94,232.15 582.51,234.12 581.94,236.1 581.26,238.07 580.5,240.05 579.7,242.03 578.9,244 578.11,245.97 577.37,247.95 576.69,249.93 576.09,251.9 575.56,253.88 575.12,255.85 574.76,257.82 574.46,259.8 L573.6,259.8Z" fill="#deaf60" stroke="#3c3c3c" stroke-width="1.1" stroke-linejoin="round"/>
<rect x="572.15" y="217.7" width="3.3" height="22.9" rx="0.7" fill="#2e2e2e"/>
<circle cx="573.6" cy="228.2" r="1.05" fill="#fff"/>
<line x1="596.8" y1="194.1" x2="596.8" y2="315.4" stroke="#444" stroke-width="1.25"/>
<line x1="596.8" y1="194.1" x2="596.8" y2="268" stroke="#444" stroke-width="1.7" stroke-linecap="round"/>
<path d="M596.8,194.1L594.2,194.1 594.2,195.41 594.2,196.72 594.2,198.04 594.2,199.35 594.2,200.66 594.2,201.97 594.2,203.29 594.07,204.6 593.65,205.91 593.24,207.22 592.85,208.54 592.5,209.85 592.21,211.16 591.99,212.47 591.85,213.79 591.8,215.1 591.85,217.72 591.99,220.35 592.21,222.97 592.5,225.6 592.85,228.22 593.24,230.85 593.65,233.48 594.07,236.1 594.47,238.73 594.86,241.35 595.21,243.98 595.52,246.6 595.79,249.23 596.02,251.85 596.2,254.48 596.36,257.1 L596.8,257.1Z" fill="#5a9bc4" stroke="#3c3c3c" stroke-width="1.1" stroke-linejoin="round"/>
<path d="M596.8,213.8L599.3,213.8 599.3,214.87 599.3,215.94 599.3,217.01 599.3,218.08 599.79,219.14 600.45,220.21 601.17,221.28 601.93,222.35 602.72,223.42 603.49,224.49 604.22,225.56 604.88,226.62 605.43,227.69 605.85,228.76 606.11,229.83 606.2,230.9 606.11,232.54 605.85,234.18 605.43,235.81 604.88,237.45 604.22,239.09 603.49,240.73 602.72,242.36 601.93,244 601.17,245.64 600.45,247.28 599.79,248.91 599.21,250.55 598.8,252.19 598.8,253.83 598.8,255.46 598.8,257.1 L596.8,257.1Z" fill="#deaf60" stroke="#3c3c3c" stroke-width="1.1" stroke-linejoin="round"/>
<rect x="595.35" y="216.4" width="3.3" height="19.7" rx="0.7" fill="#2e2e2e"/>
<circle cx="596.8" cy="228.2" r="1.05" fill="#fff"/>
<line x1="620" y1="196.2" x2="620" y2="315.4" stroke="#444" stroke-width="1.25"/>
<line x1="620" y1="196.2" x2="620" y2="268" stroke="#444" stroke-width="1.7" stroke-linecap="round"/>
<path d="M620,196.2L617.4,196.2 617.4,197.71 617.4,199.22 617.4,200.74 617.4,202.25 617.4,203.76 617.4,205.28 617.4,206.79 617.38,208.3 616.98,209.81 616.58,211.32 616.21,212.84 615.87,214.35 615.59,215.86 615.38,217.38 615.25,218.89 615.2,220.4 615.25,222.69 615.38,224.99 615.59,227.28 615.87,229.58 616.21,231.87 616.58,234.16 616.98,236.46 617.38,238.75 617.77,241.04 618.13,243.34 618.47,245.63 618.77,247.93 619.03,250.22 619.25,252.51 619.43,254.81 619.57,257.1 L620,257.1Z" fill="#5a9bc4" stroke="#3c3c3c" stroke-width="1.1" stroke-linejoin="round"/>
<path d="M620,215.1L623,215.1 623,216.09 623,217.07 623,218.06 623,219.05 623,220.04 623.57,221.03 624.28,222.01 625.02,223 625.79,223.99 626.55,224.97 627.26,225.96 627.91,226.95 628.45,227.94 628.86,228.93 629.11,229.91 629.2,230.9 629.11,232.46 628.86,234.01 628.45,235.57 627.91,237.12 627.26,238.68 626.55,240.24 625.79,241.79 625.02,243.35 624.28,244.91 623.57,246.46 622.93,248.02 622.36,249.58 621.86,251.13 621.44,252.69 621.1,254.24 620.82,255.8 L620,255.8Z" fill="#deaf60" stroke="#3c3c3c" stroke-width="1.1" stroke-linejoin="round"/>
<rect x="618.55" y="219" width="3.3" height="19.7" rx="0.7" fill="#2e2e2e"/>
<circle cx="620" cy="228.8" r="1.05" fill="#fff"/>
<line x1="643.2" y1="203.3" x2="643.2" y2="315.4" stroke="#444" stroke-width="1.25"/>
<line x1="643.2" y1="203.3" x2="643.2" y2="270" stroke="#444" stroke-width="1.7" stroke-linecap="round"/>
<path d="M643.2,203.3L640.6,203.3 640.6,204.86 640.6,206.41 640.6,207.97 640.6,209.53 640.6,211.08 640.6,212.64 640.6,214.19 640.36,215.75 639.93,217.31 639.5,218.86 639.09,220.42 638.73,221.97 638.42,223.53 638.19,225.09 638.05,226.64 638,228.2 638.05,230.34 638.19,232.47 638.42,234.61 638.73,236.75 639.09,238.89 639.5,241.02 639.93,243.16 640.36,245.3 640.78,247.44 641.18,249.57 641.54,251.71 641.87,253.85 642.15,255.99 642.38,258.12 642.58,260.26 642.74,262.4 L643.2,262.4Z" fill="#5a9bc4" stroke="#3c3c3c" stroke-width="1.1" stroke-linejoin="round"/>
<path d="M643.2,217.7L646.2,217.7 646.2,218.61 646.2,219.51 646.2,220.42 646.2,221.32 646.2,222.23 646.77,223.14 647.48,224.04 648.22,224.95 648.99,225.86 649.75,226.76 650.46,227.67 651.11,228.57 651.65,229.48 652.06,230.39 652.31,231.29 652.4,232.2 652.31,233.92 652.06,235.65 651.65,237.38 651.11,239.1 650.46,240.82 649.75,242.55 648.99,244.28 648.22,246 647.48,247.72 646.77,249.45 646.13,251.18 645.56,252.9 645.06,254.62 644.64,256.35 644.3,258.07 644.02,259.8 L643.2,259.8Z" fill="#deaf60" stroke="#3c3c3c" stroke-width="1.1" stroke-linejoin="round"/>
<rect x="641.75" y="226.9" width="3.3" height="14.5" rx="0.7" fill="#2e2e2e"/>
<circle cx="643.2" cy="230.9" r="1.05" fill="#fff"/>
<line x1="666.4" y1="173.1" x2="666.4" y2="315.4" stroke="#444" stroke-width="1.25"/>
<line x1="666.4" y1="191.4" x2="666.4" y2="265" stroke="#444" stroke-width="1.7" stroke-linecap="round"/>
<path d="M666.4,191.4L665.61,191.4 665.34,193.38 665,195.35 664.6,197.33 664.12,199.3 663.56,201.28 662.94,203.25 662.26,205.22 661.54,207.2 660.8,209.18 660.07,211.15 659.37,213.12 658.75,215.1 658.23,217.07 657.83,219.05 657.58,221.03 657.5,223 657.58,225.13 657.83,227.26 658.23,229.39 658.75,231.53 659.37,233.66 660.07,235.79 660.8,237.92 661.54,240.05 662.26,242.18 662.94,244.31 663.56,246.44 664.12,248.58 664.6,250.71 665,252.84 665.34,254.97 665.61,257.1 L666.4,257.1Z" fill="#5a9bc4" stroke="#3c3c3c" stroke-width="1.1" stroke-linejoin="round"/>
<path d="M666.4,202L667.24,202 667.53,203.97 667.89,205.94 668.32,207.91 668.84,209.88 669.43,211.84 670.09,213.81 670.82,215.78 671.59,217.75 672.38,219.72 673.16,221.69 673.9,223.66 674.57,225.62 675.13,227.59 675.55,229.56 675.81,231.53 675.9,233.5 675.81,235.14 675.55,236.79 675.13,238.43 674.57,240.07 673.9,241.72 673.16,243.36 672.38,245.01 671.59,246.65 670.82,248.29 670.09,249.94 669.43,251.58 668.84,253.23 668.32,254.87 667.89,256.51 667.53,258.16 667.24,259.8 L666.4,259.8Z" fill="#deaf60" stroke="#3c3c3c" stroke-width="1.1" stroke-linejoin="round"/>
<rect x="664.95" y="217.7" width="3.3" height="22.4" rx="0.7" fill="#2e2e2e"/>
<circle cx="666.4" cy="227.7" r="1.05" fill="#fff"/>
<rect x="51.5" y="117.4" width="626.3" height="207.6" fill="none" stroke="#d0d0d0" stroke-width="1.2"/>
<rect x="262.5" y="117.5" width="204.8" height="24.7" rx="3" fill="#fff" fill-opacity="0.8" stroke="#d8d8d8" stroke-width="1"/>
<rect x="267.7" y="123.2" width="29.3" height="10.5" fill="#176c9c" stroke="#3c3c3c" stroke-width="0.8"/>
<text class="s" x="307.61" y="133.7" font-size="14.8" fill="#222" textLength="34.09" lengthAdjust="spacingAndGlyphs">Male</text>
<rect x="369.9" y="123.2" width="28.9" height="10.5" fill="#c38820" stroke="#3c3c3c" stroke-width="0.8"/>
<text class="s" x="409.2" y="133.7" font-size="14.8" fill="#222" textLength="53.01" lengthAdjust="spacingAndGlyphs">Female</text>
<text class="s" x="18.98" y="395.5" font-size="17.3" fill="#222" textLength="193.55" lengthAdjust="spacingAndGlyphs">B. GAMLSS iTMT curves</text>
<clipPath id="clip415"><rect x="39.3" y="415.3" width="644.1" height="272.2"/></clipPath>
<path d="M44.07,415.3V687.5M48.84,415.3V687.5M53.62,415.3V687.5M58.39,415.3V687.5M67.93,415.3V687.5M72.7,415.3V687.5M77.48,415.3V687.5M82.25,415.3V687.5M91.79,415.3V687.5M96.56,415.3V687.5M101.34,415.3V687.5M106.11,415.3V687.5M115.65,415.3V687.5M120.42,415.3V687.5M125.2,415.3V687.5M129.97,415.3V687.5M139.51,415.3V687.5M144.28,415.3V687.5M149.06,415.3V687.5M153.83,415.3V687.5M163.37,415.3V687.5M168.14,415.3V687.5M172.92,415.3V687.5M177.69,415.3V687.5M187.23,415.3V687.5M192,415.3V687.5M196.78,415.3V687.5M201.55,415.3V687.5M211.09,415.3V687.5M215.86,415.3V687.5M220.64,415.3V687.5M225.41,415.3V687.5M234.95,415.3V687.5M239.72,415.3V687.5M244.5,415.3V687.5M249.27,415.3V687.5M258.81,415.3V687.5M263.58,415.3V687.5M268.36,415.3V687.5M273.13,415.3V687.5M282.67,415.3V687.5M287.44,415.3V687.5M292.22,415.3V687.5M296.99,415.3V687.5M306.53,415.3V687.5M311.3,415.3V687.5M316.08,415.3V687.5M320.85,415.3V687.5M330.39,415.3V687.5M335.16,415.3V687.5M339.94,415.3V687.5M344.71,415.3V687.5M354.25,415.3V687.5M359.02,415.3V687.5M363.8,415.3V687.5M368.57,415.3V687.5M378.11,415.3V687.5M382.88,415.3V687.5M387.66,415.3V687.5M392.43,415.3V687.5M401.97,415.3V687.5M406.74,415.3V687.5M411.52,415.3V687.5M416.29,415.3V687.5M425.83,415.3V687.5M430.6,415.3V687.5M435.38,415.3V687.5M440.15,415.3V687.5M449.69,415.3V687.5M454.46,415.3V687.5M459.24,415.3V687.5M464.01,415.3V687.5M473.55,415.3V687.5M478.32,415.3V687.5M483.1,415.3V687.5M487.87,415.3V687.5M497.41,415.3V687.5M502.18,415.3V687.5M506.96,415.3V687.5M511.73,415.3V687.5M521.27,415.3V687.5M526.04,415.3V687.5M530.82,415.3V687.5M535.59,415.3V687.5M545.13,415.3V687.5M549.9,415.3V687.5M554.68,415.3V687.5M559.45,415.3V687.5M568.99,415.3V687.5M573.76,415.3V687.5M578.54,415.3V687.5M583.31,415.3V687.5M592.85,415.3V687.5M597.62,415.3V687.5M602.4,415.3V687.5M607.17,415.3V687.5M616.71,415.3V687.5M621.48,415.3V687.5M626.26,415.3V687.5M631.03,415.3V687.5M640.57,415.3V687.5M645.34,415.3V687.5M650.12,415.3V687.5M654.89,415.3V687.5M664.43,415.3V687.5M669.2,415.3V687.5M673.98,415.3V687.5M678.75,415.3V687.5M39.3,683.87H683.4M39.3,680.24H683.4M39.3,676.61H683.4M39.3,672.98H683.4M39.3,665.72H683.4M39.3,662.09H683.4M39.3,658.47H683.4M39.3,654.84H683.4M39.3,647.58H683.4M39.3,643.95H683.4M39.3,640.32H683.4M39.3,636.69H683.4M39.3,629.43H683.4M39.3,625.8H683.4M39.3,622.17H683.4M39.3,618.54H683.4M39.3,611.28H683.4M39.3,607.65H683.4M39.3,604.03H683.4M39.3,600.4H683.4M39.3,593.14H683.4M39.3,589.51H683.4M39.3,585.88H683.4M39.3,582.25H683.4M39.3,574.99H683.4M39.3,571.36H683.4M39.3,567.73H683.4M39.3,564.1H683.4M39.3,556.84H683.4M39.3,553.21H683.4M39.3,549.59H683.4M39.3,545.96H683.4M39.3,538.7H683.4M39.3,535.07H683.4M39.3,531.44H683.4M39.3,527.81H683.4M39.3,520.55H683.4M39.3,516.92H683.4M39.3,513.29H683.4M39.3,509.66H683.4M39.3,502.4H683.4M39.3,498.77H683.4M39.3,495.15H683.4M39.3,491.52H683.4M39.3,484.26H683.4M39.3,480.63H683.4M39.3,477H683.4M39.3,473.37H683.4M39.3,466.11H683.4M39.3,462.48H683.4M39.3,458.85H683.4M39.3,455.22H683.4M39.3,447.96H683.4M39.3,444.33H683.4M39.3,440.71H683.4M39.3,437.08H683.4M39.3,429.82H683.4M39.3,426.19H683.4M39.3,422.56H683.4M39.3,418.93H683.4" stroke="#d8d8d8" stroke-width="0.7" fill="none"/>
<path d="M63.16,415.3V687.5M87.02,415.3V687.5M110.88,415.3V687.5M134.74,415.3V687.5M158.6,415.3V687.5M182.46,415.3V687.5M206.32,415.3V687.5M230.18,415.3V687.5M254.04,415.3V687.5M277.9,415.3V687.5M301.76,415.3V687.5M325.62,415.3V687.5M349.48,415.3V687.5M373.34,415.3V687.5M397.2,415.3V687.5M421.06,415.3V687.5M444.92,415.3V687.5M468.78,415.3V687.5M492.64,415.3V687.5M516.5,415.3V687.5M540.36,415.3V687.5M564.22,415.3V687.5M588.08,415.3V687.5M611.94,415.3V687.5M635.8,415.3V687.5M659.66,415.3V687.5M39.3,669.35H683.4M39.3,651.21H683.4M39.3,633.06H683.4M39.3,614.91H683.4M39.3,596.77H683.4M39.3,578.62H683.4M39.3,560.47H683.4M39.3,542.33H683.4M39.3,524.18H683.4M39.3,506.03H683.4M39.3,487.89H683.4M39.3,469.74H683.4M39.3,451.59H683.4M39.3,433.45H683.4" stroke="#a4a4a4" stroke-width="0.85" fill="none"/>
<path d="M39.3,587.81 44.07,585.27 48.84,582.73 53.62,580.2 58.39,577.68 63.16,575.17 67.93,572.67 72.7,570.19 77.48,567.71 82.25,565.24 87.02,562.78 91.79,560.32 96.56,557.85 101.34,555.35 106.11,552.83 110.88,550.27 115.65,547.65 120.42,544.98 125.2,542.25 129.97,539.46 134.74,536.59 139.51,533.64 144.28,530.63 149.06,527.56 153.83,524.44 158.6,521.28 163.37,518.1 168.14,514.9 172.92,511.72 177.69,508.57 182.46,505.47 187.23,502.45 192,499.52 196.78,496.7 201.55,494 206.32,491.45 211.09,489.04 215.86,486.8 220.64,484.71 225.41,482.77 230.18,480.99 234.95,479.35 239.72,477.85 244.5,476.48 249.27,475.22 254.04,474.07 258.81,473.02 263.58,472.05 268.36,471.16 273.13,470.34 277.9,469.58 282.67,468.88 287.44,468.24 292.22,467.65 296.99,467.11 301.76,466.61 306.53,466.16 311.3,465.75 316.08,465.36 320.85,465 325.62,464.66 330.39,464.32 335.16,463.99 339.94,463.66 344.71,463.31 349.48,462.96 354.25,462.59 359.02,462.2 363.8,461.8 368.57,461.38 373.34,460.94 378.11,460.49 382.88,460.02 387.66,459.54 392.43,459.05 397.2,458.55 401.97,458.04 406.74,457.52 411.52,457 416.29,456.47 421.06,455.95 425.83,455.42 430.6,454.9 435.38,454.39 440.15,453.89 444.92,453.4 449.69,452.93 454.46,452.47 459.24,452.04 464.01,451.62 468.78,451.23 473.55,450.86 478.32,450.52 483.1,450.2 487.87,449.93 492.64,449.69 497.41,449.5 502.18,449.36 506.96,449.27 511.73,449.23 516.5,449.26 521.27,449.35 526.04,449.51 530.82,449.74 535.59,450.03 540.36,450.4 545.13,450.84 549.9,451.35 554.68,451.92 559.45,452.55 564.22,453.22 568.99,453.93 573.76,454.69 578.54,455.47 583.31,456.28 588.08,457.11 592.85,457.96 597.62,458.83 602.4,459.71 607.17,460.59 611.94,461.49 616.71,462.39 621.48,463.3 626.26,464.2 631.03,465.09 635.8,465.97 640.57,466.83 645.34,467.67 650.12,468.5 654.89,469.3 659.66,470.09 664.43,470.86 669.2,471.61 673.98,472.35 678.75,473.09 683.52,473.82 L683.52,616.5 678.75,616.5 673.98,616.5 669.2,616.5 664.43,616.5 659.66,616.5 654.89,616.5 650.12,616.51 645.34,616.51 640.57,616.51 635.8,616.51 631.03,616.51 626.26,616.52 621.48,616.52 616.71,616.52 611.94,616.52 607.17,616.52 602.4,616.52 597.62,616.52 592.85,616.51 588.08,616.5 583.31,616.49 578.54,616.48 573.76,616.46 568.99,616.43 564.22,616.4 559.45,616.37 554.68,616.33 549.9,616.28 545.13,616.24 540.36,616.19 535.59,616.14 530.82,616.09 526.04,616.04 521.27,616 516.5,615.96 511.73,615.93 506.96,615.9 502.18,615.88 497.41,615.87 492.64,615.86 487.87,615.86 483.1,615.86 478.32,615.88 473.55,615.9 468.78,615.94 464.01,615.99 459.24,616.05 454.46,616.12 449.69,616.2 444.92,616.3 440.15,616.41 435.38,616.53 430.6,616.67 425.83,616.83 421.06,617.01 416.29,617.21 411.52,617.44 406.74,617.69 401.97,617.97 397.2,618.28 392.43,618.63 387.66,619 382.88,619.41 378.11,619.86 373.34,620.34 368.57,620.87 363.8,621.44 359.02,622.03 354.25,622.66 349.48,623.32 344.71,624 339.94,624.71 335.16,625.43 330.39,626.18 325.62,626.95 320.85,627.74 316.08,628.55 311.3,629.38 306.53,630.23 301.76,631.1 296.99,632 292.22,632.91 287.44,633.85 282.67,634.81 277.9,635.79 273.13,636.79 268.36,637.81 263.58,638.84 258.81,639.88 254.04,640.93 249.27,641.97 244.5,643.01 239.72,644.04 234.95,645.06 230.18,646.07 225.41,647.06 220.64,648.04 215.86,649.01 211.09,649.97 206.32,650.93 201.55,651.89 196.78,652.85 192,653.82 187.23,654.81 182.46,655.82 177.69,656.85 172.92,657.9 168.14,658.98 163.37,660.08 158.6,661.2 153.83,662.34 149.06,663.5 144.28,664.67 139.51,665.86 134.74,667.05 129.97,668.25 125.2,669.46 120.42,670.67 115.65,671.89 110.88,673.12 106.11,674.37 101.34,675.63 96.56,676.9 91.79,678.17 87.02,679.46 82.25,680.75 77.48,682.05 72.7,683.35 67.93,684.65 63.16,685.95 58.39,687.26 53.62,688.57 48.84,689.87 44.07,691.18 39.3,692.49Z" fill="#0871a0" fill-opacity="0.26" clip-path="url(#clip415)"/>
<path d="M39.3,610.09 44.07,607.81 48.84,605.55 53.62,603.28 58.39,601.03 63.16,598.8 67.93,596.58 72.7,594.37 77.48,592.19 82.25,590.02 87.02,587.87 91.79,585.74 96.56,583.61 101.34,581.49 106.11,579.35 110.88,577.18 115.65,574.99 120.42,572.76 125.2,570.49 129.97,568.2 134.74,565.86 139.51,563.49 144.28,561.09 149.06,558.68 153.83,556.26 158.6,553.84 163.37,551.43 168.14,549.04 172.92,546.68 177.69,544.34 182.46,542.04 187.23,539.78 192,537.56 196.78,535.39 201.55,533.26 206.32,531.18 211.09,529.16 215.86,527.19 220.64,525.29 225.41,523.46 230.18,521.71 234.95,520.04 239.72,518.46 244.5,516.96 249.27,515.54 254.04,514.21 258.81,512.96 263.58,511.78 268.36,510.68 273.13,509.64 277.9,508.67 282.67,507.75 287.44,506.89 292.22,506.08 296.99,505.31 301.76,504.57 306.53,503.87 311.3,503.19 316.08,502.52 320.85,501.87 325.62,501.22 330.39,500.57 335.16,499.92 339.94,499.26 344.71,498.6 349.48,497.94 354.25,497.26 359.02,496.59 363.8,495.91 368.57,495.24 373.34,494.56 378.11,493.89 382.88,493.23 387.66,492.56 392.43,491.9 397.2,491.25 401.97,490.59 406.74,489.94 411.52,489.29 416.29,488.65 421.06,488.02 425.83,487.4 430.6,486.79 435.38,486.19 440.15,485.61 444.92,485.05 449.69,484.51 454.46,483.99 459.24,483.49 464.01,483.01 468.78,482.56 473.55,482.15 478.32,481.76 483.1,481.42 487.87,481.11 492.64,480.84 497.41,480.62 502.18,480.44 506.96,480.31 511.73,480.23 516.5,480.21 521.27,480.25 526.04,480.33 530.82,480.48 535.59,480.68 540.36,480.94 545.13,481.26 549.9,481.63 554.68,482.05 559.45,482.52 564.22,483.02 568.99,483.55 573.76,484.11 578.54,484.7 583.31,485.31 588.08,485.94 592.85,486.59 597.62,487.24 602.4,487.91 607.17,488.59 611.94,489.28 616.71,489.98 621.48,490.69 626.26,491.39 631.03,492.09 635.8,492.78 640.57,493.46 645.34,494.12 650.12,494.78 654.89,495.43 659.66,496.07 664.43,496.7 669.2,497.33 673.98,497.95 678.75,498.57 683.52,499.19 L683.52,592 678.75,592 673.98,592 669.2,592 664.43,592 659.66,592 654.89,592 650.12,592 645.34,592 640.57,592 635.8,591.99 631.03,591.99 626.26,591.99 621.48,591.99 616.71,591.99 611.94,591.98 607.17,591.98 602.4,591.98 597.62,591.98 592.85,591.98 588.08,591.98 583.31,591.99 578.54,592 573.76,592.01 568.99,592.02 564.22,592.04 559.45,592.06 554.68,592.08 549.9,592.12 545.13,592.15 540.36,592.19 535.59,592.24 530.82,592.29 526.04,592.34 521.27,592.4 516.5,592.47 511.73,592.54 506.96,592.62 502.18,592.7 497.41,592.79 492.64,592.89 487.87,592.99 483.1,593.11 478.32,593.24 473.55,593.38 468.78,593.55 464.01,593.73 459.24,593.94 454.46,594.17 449.69,594.42 444.92,594.7 440.15,595.01 435.38,595.34 430.6,595.71 425.83,596.09 421.06,596.5 416.29,596.92 411.52,597.37 406.74,597.84 401.97,598.32 397.2,598.81 392.43,599.32 387.66,599.84 382.88,600.38 378.11,600.94 373.34,601.52 368.57,602.11 363.8,602.73 359.02,603.37 354.25,604.04 349.48,604.73 344.71,605.45 339.94,606.19 335.16,606.95 330.39,607.73 325.62,608.53 320.85,609.35 316.08,610.18 311.3,611.02 306.53,611.87 301.76,612.73 296.99,613.59 292.22,614.47 287.44,615.34 282.67,616.22 277.9,617.1 273.13,617.98 268.36,618.86 263.58,619.74 258.81,620.61 254.04,621.48 249.27,622.35 244.5,623.22 239.72,624.1 234.95,624.98 230.18,625.87 225.41,626.77 220.64,627.69 215.86,628.63 211.09,629.59 206.32,630.57 201.55,631.57 196.78,632.59 192,633.65 187.23,634.72 182.46,635.83 177.69,636.96 172.92,638.12 168.14,639.29 163.37,640.48 158.6,641.67 153.83,642.86 149.06,644.05 144.28,645.23 139.51,646.42 134.74,647.6 129.97,648.78 125.2,649.95 120.42,651.12 115.65,652.28 110.88,653.44 106.11,654.59 101.34,655.73 96.56,656.87 91.79,658 87.02,659.13 82.25,660.25 77.48,661.37 72.7,662.49 67.93,663.61 63.16,664.73 58.39,665.85 53.62,666.98 48.84,668.11 44.07,669.23 39.3,670.36Z" fill="#0871a0" fill-opacity="0.405" clip-path="url(#clip415)"/>
<path d="M39.3,626.67 44.07,624.65 48.84,622.63 53.62,620.62 58.39,618.62 63.16,616.64 67.93,614.67 72.7,612.73 77.48,610.81 82.25,608.91 87.02,607.03 91.79,605.18 96.56,603.35 101.34,601.53 106.11,599.72 110.88,597.91 115.65,596.09 120.42,594.26 125.2,592.42 129.97,590.58 134.74,588.73 139.51,586.88 144.28,585.03 149.06,583.17 153.83,581.32 158.6,579.48 163.37,577.63 168.14,575.8 172.92,573.98 177.69,572.17 182.46,570.38 187.23,568.6 192,566.85 196.78,565.12 201.55,563.41 206.32,561.74 211.09,560.1 215.86,558.49 220.64,556.93 225.41,555.41 230.18,553.95 234.95,552.54 239.72,551.19 244.5,549.89 249.27,548.64 254.04,547.43 258.81,546.27 263.58,545.14 268.36,544.05 273.13,542.98 277.9,541.94 282.67,540.92 287.44,539.92 292.22,538.95 296.99,538 301.76,537.06 306.53,536.15 311.3,535.26 316.08,534.39 320.85,533.52 325.62,532.66 330.39,531.8 335.16,530.94 339.94,530.09 344.71,529.25 349.48,528.41 354.25,527.59 359.02,526.77 363.8,525.97 368.57,525.18 373.34,524.4 378.11,523.64 382.88,522.89 387.66,522.16 392.43,521.45 397.2,520.74 401.97,520.05 406.74,519.38 411.52,518.72 416.29,518.08 421.06,517.47 425.83,516.88 430.6,516.31 435.38,515.76 440.15,515.23 444.92,514.71 449.69,514.21 454.46,513.72 459.24,513.24 464.01,512.78 468.78,512.34 473.55,511.92 478.32,511.51 483.1,511.14 487.87,510.79 492.64,510.49 497.41,510.22 502.18,510 506.96,509.82 511.73,509.69 516.5,509.59 521.27,509.55 526.04,509.54 530.82,509.57 535.59,509.64 540.36,509.74 545.13,509.87 549.9,510.03 554.68,510.23 559.45,510.45 564.22,510.7 568.99,510.98 573.76,511.3 578.54,511.63 583.31,512 588.08,512.38 592.85,512.79 597.62,513.21 602.4,513.66 607.17,514.12 611.94,514.6 616.71,515.09 621.48,515.59 626.26,516.09 631.03,516.6 635.8,517.1 640.57,517.59 645.34,518.08 650.12,518.56 654.89,519.04 659.66,519.52 664.43,519.99 669.2,520.47 673.98,520.94 678.75,521.42 683.52,521.9 L683.52,567.7 678.75,567.71 673.98,567.71 669.2,567.71 664.43,567.71 659.66,567.71 654.89,567.71 650.12,567.71 645.34,567.71 640.57,567.7 635.8,567.7 631.03,567.69 626.26,567.69 621.48,567.68 616.71,567.67 611.94,567.66 607.17,567.64 602.4,567.62 597.62,567.61 592.85,567.59 588.08,567.57 583.31,567.55 578.54,567.53 573.76,567.51 568.99,567.5 564.22,567.49 559.45,567.48 554.68,567.49 549.9,567.5 545.13,567.52 540.36,567.54 535.59,567.58 530.82,567.64 526.04,567.7 521.27,567.78 516.5,567.87 511.73,567.97 506.96,568.09 502.18,568.22 497.41,568.37 492.64,568.54 487.87,568.73 483.1,568.93 478.32,569.15 473.55,569.39 468.78,569.64 464.01,569.91 459.24,570.19 454.46,570.49 449.69,570.81 444.92,571.15 440.15,571.53 435.38,571.93 430.6,572.35 425.83,572.8 421.06,573.28 416.29,573.77 411.52,574.29 406.74,574.82 401.97,575.37 397.2,575.93 392.43,576.5 387.66,577.09 382.88,577.68 378.11,578.29 373.34,578.91 368.57,579.55 363.8,580.2 359.02,580.86 354.25,581.56 349.48,582.28 344.71,583.02 339.94,583.8 335.16,584.61 330.39,585.45 325.62,586.33 320.85,587.23 316.08,588.17 311.3,589.13 306.53,590.12 301.76,591.12 296.99,592.15 292.22,593.18 287.44,594.23 282.67,595.27 277.9,596.32 273.13,597.36 268.36,598.39 263.58,599.41 258.81,600.42 254.04,601.42 249.27,602.42 244.5,603.4 239.72,604.38 234.95,605.36 230.18,606.34 225.41,607.32 220.64,608.31 215.86,609.31 211.09,610.33 206.32,611.37 201.55,612.43 196.78,613.52 192,614.64 187.23,615.79 182.46,616.96 177.69,618.17 172.92,619.39 168.14,620.64 163.37,621.89 158.6,623.15 153.83,624.4 149.06,625.65 144.28,626.89 139.51,628.12 134.74,629.35 129.97,630.57 125.2,631.78 120.42,632.99 115.65,634.21 110.88,635.44 106.11,636.67 101.34,637.93 96.56,639.19 91.79,640.46 87.02,641.75 82.25,643.04 77.48,644.35 72.7,645.66 67.93,646.99 63.16,648.32 58.39,649.66 53.62,651.01 48.84,652.36 44.07,653.72 39.3,655.08Z" fill="#0871a0" fill-opacity="0.761" clip-path="url(#clip415)"/>
<path d="M39.3,641.04 44.07,639.51 48.84,637.98 53.62,636.45 58.39,634.92 63.16,633.39 67.93,631.85 72.7,630.31 77.48,628.76 82.25,627.2 87.02,625.63 91.79,624.05 96.56,622.46 101.34,620.85 106.11,619.24 110.88,617.63 115.65,616.01 120.42,614.4 125.2,612.79 129.97,611.19 134.74,609.62 139.51,608.06 144.28,606.53 149.06,605.01 153.83,603.52 158.6,602.05 163.37,600.6 168.14,599.17 172.92,597.76 177.69,596.36 182.46,594.97 187.23,593.6 192,592.23 196.78,590.87 201.55,589.52 206.32,588.19 211.09,586.87 215.86,585.56 220.64,584.27 225.41,583 230.18,581.75 234.95,580.52 239.72,579.31 244.5,578.12 249.27,576.95 254.04,575.8 258.81,574.67 263.58,573.57 268.36,572.48 273.13,571.42 277.9,570.37 282.67,569.33 287.44,568.31 292.22,567.3 296.99,566.31 301.76,565.31 306.53,564.33 311.3,563.35 316.08,562.39 320.85,561.44 325.62,560.51 330.39,559.61 335.16,558.73 339.94,557.88 344.71,557.05 349.48,556.26 354.25,555.48 359.02,554.73 363.8,554 368.57,553.29 373.34,552.59 378.11,551.89 382.88,551.21 387.66,550.54 392.43,549.87 397.2,549.21 401.97,548.57 406.74,547.93 411.52,547.3 416.29,546.68 421.06,546.08 425.83,545.49 430.6,544.92 435.38,544.36 440.15,543.82 444.92,543.3 449.69,542.81 454.46,542.34 459.24,541.9 464.01,541.49 468.78,541.11 473.55,540.77 478.32,540.47 483.1,540.2 487.87,539.97 492.64,539.78 497.41,539.62 502.18,539.49 506.96,539.4 511.73,539.33 516.5,539.28 521.27,539.25 526.04,539.24 530.82,539.25 535.59,539.27 540.36,539.31 545.13,539.36 549.9,539.42 554.68,539.5 559.45,539.6 564.22,539.7 568.99,539.82 573.76,539.96 578.54,540.1 583.31,540.26 588.08,540.42 592.85,540.59 597.62,540.77 602.4,540.96 607.17,541.15 611.94,541.35 616.71,541.56 621.48,541.77 626.26,541.99 631.03,542.22 635.8,542.46 640.57,542.7 645.34,542.96 650.12,543.23 654.89,543.5 659.66,543.79 664.43,544.08 669.2,544.38 673.98,544.68 678.75,544.99 683.52,545.3" fill="none" stroke="#1a1a1a" stroke-width="1.15" clip-path="url(#clip415)"/>
<rect x="39.3" y="415.3" width="644.1" height="272.2" fill="none" stroke="#cfcfcf" stroke-width="1.1"/>
<text x="420.7" y="621.6" font-size="14.4" text-anchor="middle" fill="#222" stroke="#fff" stroke-width="3.2" stroke-linejoin="round" paint-order="stroke" textLength="8.4" lengthAdjust="spacingAndGlyphs">3</text>
<text x="444.9" y="598.9" font-size="14.4" text-anchor="middle" fill="#222" stroke="#fff" stroke-width="3.2" stroke-linejoin="round" paint-order="stroke" textLength="16.8" lengthAdjust="spacingAndGlyphs">10</text>
<text x="468.3" y="574" font-size="14.4" text-anchor="middle" fill="#222" stroke="#fff" stroke-width="3.2" stroke-linejoin="round" paint-order="stroke" textLength="16.8" lengthAdjust="spacingAndGlyphs">25</text>
<text x="492.3" y="544.1" font-size="14.4" text-anchor="middle" fill="#222" stroke="#fff" stroke-width="3.2" stroke-linejoin="round" paint-order="stroke" textLength="16.8" lengthAdjust="spacingAndGlyphs">50</text>
<text x="516.1" y="513.3" font-size="14.4" text-anchor="middle" fill="#222" stroke="#fff" stroke-width="3.2" stroke-linejoin="round" paint-order="stroke" textLength="16.8" lengthAdjust="spacingAndGlyphs">75</text>
<text x="540.1" y="484.7" font-size="14.4" text-anchor="middle" fill="#222" stroke="#fff" stroke-width="3.2" stroke-linejoin="round" paint-order="stroke" textLength="16.8" lengthAdjust="spacingAndGlyphs">90</text>
<text x="563.7" y="457" font-size="14.4" text-anchor="middle" fill="#222" stroke="#fff" stroke-width="3.2" stroke-linejoin="round" paint-order="stroke" textLength="16.8" lengthAdjust="spacingAndGlyphs">97</text>
<text class="s" x="345.49" y="437.7" font-size="14" fill="#222" textLength="32.07" lengthAdjust="spacingAndGlyphs">Male</text>
<text class="s" x="32.6" y="692.8" font-size="14.2" text-anchor="end" fill="#222" textLength="8.6" lengthAdjust="spacingAndGlyphs">6</text>
<text class="s" x="32.6" y="674.65" font-size="14.2" text-anchor="end" fill="#222" textLength="8.6" lengthAdjust="spacingAndGlyphs">7</text>
<text class="s" x="32.6" y="656.51" font-size="14.2" text-anchor="end" fill="#222" textLength="8.6" lengthAdjust="spacingAndGlyphs">8</text>
<text class="s" x="32.6" y="638.36" font-size="14.2" text-anchor="end" fill="#222" textLength="8.6" lengthAdjust="spacingAndGlyphs">9</text>
<text class="s" x="32.6" y="620.21" font-size="14.2" text-anchor="end" fill="#222" textLength="17.2" lengthAdjust="spacingAndGlyphs">10</text>
<text class="s" x="32.6" y="602.07" font-size="14.2" text-anchor="end" fill="#222" textLength="17.2" lengthAdjust="spacingAndGlyphs">11</text>
<text class="s" x="32.6" y="583.92" font-size="14.2" text-anchor="end" fill="#222" textLength="17.2" lengthAdjust="spacingAndGlyphs">12</text>
<text class="s" x="32.6" y="565.77" font-size="14.2" text-anchor="end" fill="#222" textLength="17.2" lengthAdjust="spacingAndGlyphs">13</text>
<text class="s" x="32.6" y="547.63" font-size="14.2" text-anchor="end" fill="#222" textLength="17.2" lengthAdjust="spacingAndGlyphs">14</text>
<text class="s" x="32.6" y="529.48" font-size="14.2" text-anchor="end" fill="#222" textLength="17.2" lengthAdjust="spacingAndGlyphs">15</text>
<text class="s" x="32.6" y="511.33" font-size="14.2" text-anchor="end" fill="#222" textLength="17.2" lengthAdjust="spacingAndGlyphs">16</text>
<text class="s" x="32.6" y="493.19" font-size="14.2" text-anchor="end" fill="#222" textLength="17.2" lengthAdjust="spacingAndGlyphs">17</text>
<text class="s" x="32.6" y="475.04" font-size="14.2" text-anchor="end" fill="#222" textLength="17.2" lengthAdjust="spacingAndGlyphs">18</text>
<text class="s" x="32.6" y="456.89" font-size="14.2" text-anchor="end" fill="#222" textLength="17.2" lengthAdjust="spacingAndGlyphs">19</text>
<text class="s" x="32.6" y="438.75" font-size="14.2" text-anchor="end" fill="#222" textLength="17.2" lengthAdjust="spacingAndGlyphs">20</text>
<text class="s" transform="translate(11.82,596.35) rotate(-90)" x="0" y="0" font-size="16.5" fill="#222" textLength="77.38" lengthAdjust="spacingAndGlyphs">iTMT, mm</text>
<clipPath id="clip709"><rect x="39.3" y="709.2" width="644.1" height="271.7"/></clipPath>
<path d="M44.07,709.2V980.9M48.84,709.2V980.9M53.62,709.2V980.9M58.39,709.2V980.9M67.93,709.2V980.9M72.7,709.2V980.9M77.48,709.2V980.9M82.25,709.2V980.9M91.79,709.2V980.9M96.56,709.2V980.9M101.34,709.2V980.9M106.11,709.2V980.9M115.65,709.2V980.9M120.42,709.2V980.9M125.2,709.2V980.9M129.97,709.2V980.9M139.51,709.2V980.9M144.28,709.2V980.9M149.06,709.2V980.9M153.83,709.2V980.9M163.37,709.2V980.9M168.14,709.2V980.9M172.92,709.2V980.9M177.69,709.2V980.9M187.23,709.2V980.9M192,709.2V980.9M196.78,709.2V980.9M201.55,709.2V980.9M211.09,709.2V980.9M215.86,709.2V980.9M220.64,709.2V980.9M225.41,709.2V980.9M234.95,709.2V980.9M239.72,709.2V980.9M244.5,709.2V980.9M249.27,709.2V980.9M258.81,709.2V980.9M263.58,709.2V980.9M268.36,709.2V980.9M273.13,709.2V980.9M282.67,709.2V980.9M287.44,709.2V980.9M292.22,709.2V980.9M296.99,709.2V980.9M306.53,709.2V980.9M311.3,709.2V980.9M316.08,709.2V980.9M320.85,709.2V980.9M330.39,709.2V980.9M335.16,709.2V980.9M339.94,709.2V980.9M344.71,709.2V980.9M354.25,709.2V980.9M359.02,709.2V980.9M363.8,709.2V980.9M368.57,709.2V980.9M378.11,709.2V980.9M382.88,709.2V980.9M387.66,709.2V980.9M392.43,709.2V980.9M401.97,709.2V980.9M406.74,709.2V980.9M411.52,709.2V980.9M416.29,709.2V980.9M425.83,709.2V980.9M430.6,709.2V980.9M435.38,709.2V980.9M440.15,709.2V980.9M449.69,709.2V980.9M454.46,709.2V980.9M459.24,709.2V980.9M464.01,709.2V980.9M473.55,709.2V980.9M478.32,709.2V980.9M483.1,709.2V980.9M487.87,709.2V980.9M497.41,709.2V980.9M502.18,709.2V980.9M506.96,709.2V980.9M511.73,709.2V980.9M521.27,709.2V980.9M526.04,709.2V980.9M530.82,709.2V980.9M535.59,709.2V980.9M545.13,709.2V980.9M549.9,709.2V980.9M554.68,709.2V980.9M559.45,709.2V980.9M568.99,709.2V980.9M573.76,709.2V980.9M578.54,709.2V980.9M583.31,709.2V980.9M592.85,709.2V980.9M597.62,709.2V980.9M602.4,709.2V980.9M607.17,709.2V980.9M616.71,709.2V980.9M621.48,709.2V980.9M626.26,709.2V980.9M631.03,709.2V980.9M640.57,709.2V980.9M645.34,709.2V980.9M650.12,709.2V980.9M654.89,709.2V980.9M664.43,709.2V980.9M669.2,709.2V980.9M673.98,709.2V980.9M678.75,709.2V980.9M39.3,977.28H683.4M39.3,973.65H683.4M39.3,970.03H683.4M39.3,966.41H683.4M39.3,959.16H683.4M39.3,955.54H683.4M39.3,951.92H683.4M39.3,948.3H683.4M39.3,941.05H683.4M39.3,937.43H683.4M39.3,933.81H683.4M39.3,930.18H683.4M39.3,922.94H683.4M39.3,919.31H683.4M39.3,915.69H683.4M39.3,912.07H683.4M39.3,904.82H683.4M39.3,901.2H683.4M39.3,897.58H683.4M39.3,893.96H683.4M39.3,886.71H683.4M39.3,883.09H683.4M39.3,879.47H683.4M39.3,875.84H683.4M39.3,868.6H683.4M39.3,864.97H683.4M39.3,861.35H683.4M39.3,857.73H683.4M39.3,850.48H683.4M39.3,846.86H683.4M39.3,843.24H683.4M39.3,839.62H683.4M39.3,832.37H683.4M39.3,828.75H683.4M39.3,825.13H683.4M39.3,821.5H683.4M39.3,814.26H683.4M39.3,810.63H683.4M39.3,807.01H683.4M39.3,803.39H683.4M39.3,796.14H683.4M39.3,792.52H683.4M39.3,788.9H683.4M39.3,785.28H683.4M39.3,778.03H683.4M39.3,774.41H683.4M39.3,770.79H683.4M39.3,767.16H683.4M39.3,759.92H683.4M39.3,756.29H683.4M39.3,752.67H683.4M39.3,749.05H683.4M39.3,741.8H683.4M39.3,738.18H683.4M39.3,734.56H683.4M39.3,730.94H683.4M39.3,723.69H683.4M39.3,720.07H683.4M39.3,716.45H683.4M39.3,712.82H683.4" stroke="#d8d8d8" stroke-width="0.7" fill="none"/>
<path d="M63.16,709.2V980.9M87.02,709.2V980.9M110.88,709.2V980.9M134.74,709.2V980.9M158.6,709.2V980.9M182.46,709.2V980.9M206.32,709.2V980.9M230.18,709.2V980.9M254.04,709.2V980.9M277.9,709.2V980.9M301.76,709.2V980.9M325.62,709.2V980.9M349.48,709.2V980.9M373.34,709.2V980.9M397.2,709.2V980.9M421.06,709.2V980.9M444.92,709.2V980.9M468.78,709.2V980.9M492.64,709.2V980.9M516.5,709.2V980.9M540.36,709.2V980.9M564.22,709.2V980.9M588.08,709.2V980.9M611.94,709.2V980.9M635.8,709.2V980.9M659.66,709.2V980.9M39.3,962.79H683.4M39.3,944.67H683.4M39.3,926.56H683.4M39.3,908.45H683.4M39.3,890.33H683.4M39.3,872.22H683.4M39.3,854.11H683.4M39.3,835.99H683.4M39.3,817.88H683.4M39.3,799.77H683.4M39.3,781.65H683.4M39.3,763.54H683.4M39.3,745.43H683.4M39.3,727.31H683.4" stroke="#a4a4a4" stroke-width="0.85" fill="none"/>
<path d="M39.3,874.86 44.07,872.8 48.84,870.73 53.62,868.67 58.39,866.59 63.16,864.5 67.93,862.39 72.7,860.26 77.48,858.08 82.25,855.85 87.02,853.55 91.79,851.17 96.56,848.71 101.34,846.18 106.11,843.58 110.88,840.92 115.65,838.2 120.42,835.43 125.2,832.6 129.97,829.71 134.74,826.76 139.51,823.75 144.28,820.67 149.06,817.54 153.83,814.35 158.6,811.1 163.37,807.8 168.14,804.46 172.92,801.12 177.69,797.78 182.46,794.48 187.23,791.24 192,788.06 196.78,784.94 201.55,781.91 206.32,778.97 211.09,776.12 215.86,773.42 220.64,770.92 225.41,768.66 230.18,766.71 234.95,765.09 239.72,763.82 244.5,762.88 249.27,762.25 254.04,761.92 258.81,761.88 263.58,762.11 268.36,762.58 273.13,763.27 277.9,764.15 282.67,765.19 287.44,766.37 292.22,767.64 296.99,768.97 301.76,770.32 306.53,771.65 311.3,772.96 316.08,774.24 320.85,775.48 325.62,776.67 330.39,777.82 335.16,778.92 339.94,779.96 344.71,780.96 349.48,781.91 354.25,782.81 359.02,783.65 363.8,784.44 368.57,785.16 373.34,785.81 378.11,786.38 382.88,786.89 387.66,787.32 392.43,787.7 397.2,788.02 401.97,788.29 406.74,788.51 411.52,788.68 416.29,788.82 421.06,788.91 425.83,788.98 430.6,789.02 435.38,789.04 440.15,789.06 444.92,789.07 449.69,789.09 454.46,789.13 459.24,789.18 464.01,789.25 468.78,789.35 473.55,789.48 478.32,789.64 483.1,789.81 487.87,790.01 492.64,790.23 497.41,790.46 502.18,790.7 506.96,790.96 511.73,791.23 516.5,791.51 521.27,791.81 526.04,792.13 530.82,792.47 535.59,792.84 540.36,793.24 545.13,793.68 549.9,794.14 554.68,794.59 559.45,795.03 564.22,795.44 568.99,795.78 573.76,796.08 578.54,796.32 583.31,796.5 588.08,796.63 592.85,796.71 597.62,796.73 602.4,796.7 607.17,796.61 611.94,796.47 616.71,796.27 621.48,796.01 626.26,795.71 631.03,795.36 635.8,794.98 640.57,794.57 645.34,794.12 650.12,793.64 654.89,793.12 659.66,792.55 664.43,791.93 669.2,791.28 673.98,790.6 678.75,789.89 683.52,789.18 L683.52,926.31 678.75,926.12 673.98,925.93 669.2,925.74 664.43,925.54 659.66,925.35 654.89,925.15 650.12,924.96 645.34,924.76 640.57,924.58 635.8,924.4 631.03,924.23 626.26,924.07 621.48,923.92 616.71,923.79 611.94,923.67 607.17,923.56 602.4,923.46 597.62,923.37 592.85,923.29 588.08,923.21 583.31,923.13 578.54,923.06 573.76,922.99 568.99,922.92 564.22,922.86 559.45,922.79 554.68,922.73 549.9,922.67 545.13,922.61 540.36,922.57 535.59,922.53 530.82,922.5 526.04,922.48 521.27,922.48 516.5,922.48 511.73,922.5 506.96,922.53 502.18,922.57 497.41,922.62 492.64,922.68 487.87,922.75 483.1,922.83 478.32,922.91 473.55,923 468.78,923.09 464.01,923.17 459.24,923.26 454.46,923.34 449.69,923.42 444.92,923.5 440.15,923.58 435.38,923.65 430.6,923.73 425.83,923.8 421.06,923.86 416.29,923.93 411.52,923.99 406.74,924.05 401.97,924.1 397.2,924.16 392.43,924.21 387.66,924.27 382.88,924.32 378.11,924.38 373.34,924.44 368.57,924.5 363.8,924.57 359.02,924.64 354.25,924.71 349.48,924.8 344.71,924.88 339.94,924.98 335.16,925.09 330.39,925.21 325.62,925.34 320.85,925.49 316.08,925.66 311.3,925.87 306.53,926.11 301.76,926.39 296.99,926.71 292.22,927.09 287.44,927.51 282.67,927.97 277.9,928.47 273.13,929.02 268.36,929.61 263.58,930.25 258.81,930.94 254.04,931.68 249.27,932.48 244.5,933.34 239.72,934.26 234.95,935.22 230.18,936.24 225.41,937.3 220.64,938.4 215.86,939.54 211.09,940.71 206.32,941.9 201.55,943.1 196.78,944.32 192,945.55 187.23,946.77 182.46,948 177.69,949.22 172.92,950.43 168.14,951.62 163.37,952.79 158.6,953.94 153.83,955.05 149.06,956.15 144.28,957.21 139.51,958.26 134.74,959.29 129.97,960.3 125.2,961.31 120.42,962.29 115.65,963.27 110.88,964.24 106.11,965.2 101.34,966.15 96.56,967.09 91.79,968.02 87.02,968.94 82.25,969.85 77.48,970.75 72.7,971.63 67.93,972.5 63.16,973.36 58.39,974.21 53.62,975.05 48.84,975.89 44.07,976.72 39.3,977.54Z" fill="#c38820" fill-opacity="0.26" clip-path="url(#clip709)"/>
<path d="M39.3,900.05 44.07,898.17 48.84,896.29 53.62,894.41 58.39,892.54 63.16,890.68 67.93,888.82 72.7,886.98 77.48,885.14 82.25,883.31 87.02,881.48 91.79,879.65 96.56,877.82 101.34,875.96 106.11,874.07 110.88,872.14 115.65,870.15 120.42,868.1 125.2,865.99 129.97,863.81 134.74,861.57 139.51,859.27 144.28,856.89 149.06,854.45 153.83,851.94 158.6,849.36 163.37,846.71 168.14,844.02 172.92,841.31 177.69,838.6 182.46,835.92 187.23,833.28 192,830.71 196.78,828.2 201.55,825.75 206.32,823.38 211.09,821.08 215.86,818.88 220.64,816.82 225.41,814.92 230.18,813.21 234.95,811.72 239.72,810.44 244.5,809.36 249.27,808.48 254.04,807.8 258.81,807.29 263.58,806.95 268.36,806.76 273.13,806.72 277.9,806.79 282.67,806.97 287.44,807.24 292.22,807.59 296.99,808 301.76,808.46 306.53,808.95 311.3,809.47 316.08,810 320.85,810.54 325.62,811.07 330.39,811.59 335.16,812.08 339.94,812.55 344.71,812.98 349.48,813.37 354.25,813.7 359.02,813.99 363.8,814.22 368.57,814.4 373.34,814.54 378.11,814.63 382.88,814.68 387.66,814.7 392.43,814.67 397.2,814.62 401.97,814.54 406.74,814.44 411.52,814.32 416.29,814.17 421.06,814.02 425.83,813.85 430.6,813.67 435.38,813.5 440.15,813.33 444.92,813.17 449.69,813.04 454.46,812.92 459.24,812.83 464.01,812.77 468.78,812.74 473.55,812.75 478.32,812.79 483.1,812.85 487.87,812.95 492.64,813.07 497.41,813.22 502.18,813.39 506.96,813.58 511.73,813.79 516.5,814.01 521.27,814.26 526.04,814.52 530.82,814.8 535.59,815.11 540.36,815.44 545.13,815.8 549.9,816.17 554.68,816.55 559.45,816.93 564.22,817.28 568.99,817.61 573.76,817.9 578.54,818.18 583.31,818.42 588.08,818.64 592.85,818.84 597.62,819.02 602.4,819.17 607.17,819.3 611.94,819.4 616.71,819.48 621.48,819.53 626.26,819.56 631.03,819.57 635.8,819.54 640.57,819.49 645.34,819.42 650.12,819.32 654.89,819.2 659.66,819.06 664.43,818.91 669.2,818.74 673.98,818.56 678.75,818.37 683.52,818.19 L683.52,902.8 678.75,902.66 673.98,902.52 669.2,902.37 664.43,902.23 659.66,902.08 654.89,901.94 650.12,901.79 645.34,901.65 640.57,901.5 635.8,901.36 631.03,901.22 626.26,901.07 621.48,900.94 616.71,900.8 611.94,900.67 607.17,900.54 602.4,900.42 597.62,900.31 592.85,900.2 588.08,900.09 583.31,899.99 578.54,899.89 573.76,899.79 568.99,899.7 564.22,899.62 559.45,899.54 554.68,899.46 549.9,899.39 545.13,899.33 540.36,899.28 535.59,899.23 530.82,899.2 526.04,899.19 521.27,899.19 516.5,899.2 511.73,899.24 506.96,899.29 502.18,899.36 497.41,899.46 492.64,899.56 487.87,899.69 483.1,899.84 478.32,900 473.55,900.18 468.78,900.37 464.01,900.57 459.24,900.79 454.46,901.02 449.69,901.26 444.92,901.52 440.15,901.78 435.38,902.05 430.6,902.33 425.83,902.61 421.06,902.89 416.29,903.17 411.52,903.45 406.74,903.72 401.97,903.99 397.2,904.26 392.43,904.52 387.66,904.78 382.88,905.04 378.11,905.3 373.34,905.56 368.57,905.83 363.8,906.1 359.02,906.36 354.25,906.63 349.48,906.9 344.71,907.17 339.94,907.43 335.16,907.7 330.39,907.96 325.62,908.23 320.85,908.5 316.08,908.77 311.3,909.06 306.53,909.36 301.76,909.68 296.99,910.03 292.22,910.41 287.44,910.82 282.67,911.25 277.9,911.72 273.13,912.23 268.36,912.78 263.58,913.38 258.81,914.04 254.04,914.75 249.27,915.53 244.5,916.38 239.72,917.3 234.95,918.29 230.18,919.35 225.41,920.48 220.64,921.66 215.86,922.9 211.09,924.16 206.32,925.45 201.55,926.74 196.78,928.03 192,929.3 187.23,930.54 182.46,931.75 177.69,932.9 172.92,934 168.14,935.07 163.37,936.1 158.6,937.11 153.83,938.09 149.06,939.06 144.28,940.01 139.51,940.95 134.74,941.88 129.97,942.81 125.2,943.73 120.42,944.65 115.65,945.56 110.88,946.47 106.11,947.37 101.34,948.27 96.56,949.16 91.79,950.04 87.02,950.9 82.25,951.75 77.48,952.58 72.7,953.39 67.93,954.19 63.16,954.98 58.39,955.75 53.62,956.51 48.84,957.27 44.07,958.02 39.3,958.77Z" fill="#c38820" fill-opacity="0.405" clip-path="url(#clip709)"/>
<path d="M39.3,916.88 44.07,915.45 48.84,914.01 53.62,912.57 58.39,911.14 63.16,909.7 67.93,908.27 72.7,906.84 77.48,905.4 82.25,903.95 87.02,902.49 91.79,901.02 96.56,899.53 101.34,898.02 106.11,896.47 110.88,894.88 115.65,893.25 120.42,891.58 125.2,889.86 129.97,888.09 134.74,886.28 139.51,884.41 144.28,882.5 149.06,880.55 153.83,878.55 158.6,876.52 163.37,874.45 168.14,872.35 172.92,870.24 177.69,868.13 182.46,866.01 187.23,863.92 192,861.84 196.78,859.81 201.55,857.81 206.32,855.87 211.09,854 215.86,852.21 220.64,850.5 225.41,848.89 230.18,847.4 234.95,846.03 239.72,844.78 244.5,843.67 249.27,842.68 254.04,841.81 258.81,841.08 263.58,840.47 268.36,839.96 273.13,839.56 277.9,839.25 282.67,839.03 287.44,838.88 292.22,838.8 296.99,838.77 301.76,838.78 306.53,838.83 311.3,838.91 316.08,839 320.85,839.11 325.62,839.22 330.39,839.32 335.16,839.42 339.94,839.5 344.71,839.55 349.48,839.59 354.25,839.59 359.02,839.57 363.8,839.51 368.57,839.43 373.34,839.31 378.11,839.17 382.88,838.99 387.66,838.79 392.43,838.56 397.2,838.31 401.97,838.03 406.74,837.73 411.52,837.42 416.29,837.1 421.06,836.77 425.83,836.44 430.6,836.12 435.38,835.8 440.15,835.5 444.92,835.21 449.69,834.95 454.46,834.71 459.24,834.5 464.01,834.32 468.78,834.16 473.55,834.04 478.32,833.95 483.1,833.88 487.87,833.85 492.64,833.84 497.41,833.85 502.18,833.89 506.96,833.96 511.73,834.06 516.5,834.2 521.27,834.36 526.04,834.56 530.82,834.78 535.59,835.04 540.36,835.32 545.13,835.62 549.9,835.94 554.68,836.28 559.45,836.61 564.22,836.95 568.99,837.28 573.76,837.6 578.54,837.91 583.31,838.2 588.08,838.48 592.85,838.75 597.62,839 602.4,839.24 607.17,839.46 611.94,839.66 616.71,839.84 621.48,840.01 626.26,840.15 631.03,840.28 635.8,840.39 640.57,840.47 645.34,840.54 650.12,840.59 654.89,840.63 659.66,840.65 664.43,840.67 669.2,840.67 673.98,840.67 678.75,840.66 683.52,840.65 L683.52,882.61 678.75,882.5 673.98,882.39 669.2,882.28 664.43,882.18 659.66,882.07 654.89,881.96 650.12,881.85 645.34,881.73 640.57,881.61 635.8,881.49 631.03,881.36 626.26,881.23 621.48,881.08 616.71,880.94 611.94,880.79 607.17,880.64 602.4,880.48 597.62,880.32 592.85,880.16 588.08,880 583.31,879.84 578.54,879.68 573.76,879.52 568.99,879.37 564.22,879.21 559.45,879.07 554.68,878.92 549.9,878.79 545.13,878.66 540.36,878.55 535.59,878.45 530.82,878.36 526.04,878.29 521.27,878.24 516.5,878.21 511.73,878.2 506.96,878.22 502.18,878.25 497.41,878.31 492.64,878.4 487.87,878.51 483.1,878.64 478.32,878.8 473.55,878.98 468.78,879.17 464.01,879.39 459.24,879.62 454.46,879.86 449.69,880.13 444.92,880.4 440.15,880.7 435.38,881.01 430.6,881.34 425.83,881.67 421.06,882.02 416.29,882.37 411.52,882.73 406.74,883.1 401.97,883.46 397.2,883.83 392.43,884.2 387.66,884.56 382.88,884.93 378.11,885.28 373.34,885.64 368.57,885.99 363.8,886.33 359.02,886.66 354.25,886.97 349.48,887.27 344.71,887.54 339.94,887.8 335.16,888.05 330.39,888.29 325.62,888.53 320.85,888.76 316.08,889 311.3,889.25 306.53,889.52 301.76,889.82 296.99,890.15 292.22,890.51 287.44,890.91 282.67,891.35 277.9,891.82 273.13,892.34 268.36,892.9 263.58,893.52 258.81,894.19 254.04,894.93 249.27,895.74 244.5,896.62 239.72,897.57 234.95,898.59 230.18,899.69 225.41,900.85 220.64,902.08 215.86,903.37 211.09,904.7 206.32,906.06 201.55,907.44 196.78,908.84 192,910.24 187.23,911.64 182.46,913.03 177.69,914.41 172.92,915.76 168.14,917.08 163.37,918.37 158.6,919.62 153.83,920.83 149.06,922 144.28,923.13 139.51,924.23 134.74,925.3 129.97,926.35 125.2,927.37 120.42,928.38 115.65,929.37 110.88,930.34 106.11,931.3 101.34,932.25 96.56,933.18 91.79,934.1 87.02,935.01 82.25,935.91 77.48,936.8 72.7,937.68 67.93,938.56 63.16,939.43 58.39,940.32 53.62,941.2 48.84,942.09 44.07,942.97 39.3,943.86Z" fill="#c38820" fill-opacity="0.761" clip-path="url(#clip709)"/>
<path d="M39.3,930.71 44.07,929.63 48.84,928.54 53.62,927.45 58.39,926.36 63.16,925.27 67.93,924.17 72.7,923.08 77.48,921.98 82.25,920.86 87.02,919.74 91.79,918.59 96.56,917.43 101.34,916.24 106.11,915.03 110.88,913.77 115.65,912.48 120.42,911.14 125.2,909.77 129.97,908.36 134.74,906.92 139.51,905.45 144.28,903.95 149.06,902.41 153.83,900.85 158.6,899.27 163.37,897.66 168.14,896.02 172.92,894.37 177.69,892.71 182.46,891.03 187.23,889.35 192,887.67 196.78,886 201.55,884.36 206.32,882.74 211.09,881.16 215.86,879.64 220.64,878.18 225.41,876.79 230.18,875.5 234.95,874.3 239.72,873.19 244.5,872.18 249.27,871.27 254.04,870.44 258.81,869.7 263.58,869.05 268.36,868.47 273.13,867.97 277.9,867.53 282.67,867.16 287.44,866.85 292.22,866.58 296.99,866.36 301.76,866.16 306.53,865.99 311.3,865.83 316.08,865.69 320.85,865.55 325.62,865.4 330.39,865.25 335.16,865.09 339.94,864.91 344.71,864.72 349.48,864.5 354.25,864.26 359.02,864 363.8,863.73 368.57,863.43 373.34,863.12 378.11,862.79 382.88,862.45 387.66,862.1 392.43,861.74 397.2,861.37 401.97,860.99 406.74,860.61 411.52,860.23 416.29,859.84 421.06,859.46 425.83,859.08 430.6,858.71 435.38,858.34 440.15,857.99 444.92,857.65 449.69,857.33 454.46,857.03 459.24,856.76 464.01,856.51 468.78,856.29 473.55,856.1 478.32,855.95 483.1,855.84 487.87,855.76 492.64,855.72 497.41,855.71 502.18,855.74 506.96,855.79 511.73,855.88 516.5,855.98 521.27,856.11 526.04,856.26 530.82,856.43 535.59,856.61 540.36,856.82 545.13,857.03 549.9,857.26 554.68,857.5 559.45,857.74 564.22,857.99 568.99,858.24 573.76,858.48 578.54,858.72 583.31,858.96 588.08,859.19 592.85,859.42 597.62,859.64 602.4,859.85 607.17,860.05 611.94,860.24 616.71,860.41 621.48,860.57 626.26,860.72 631.03,860.86 635.8,860.99 640.57,861.1 645.34,861.2 650.12,861.29 654.89,861.37 659.66,861.44 664.43,861.51 669.2,861.58 673.98,861.64 678.75,861.7 683.52,861.76" fill="none" stroke="#1a1a1a" stroke-width="1.15" clip-path="url(#clip709)"/>
<rect x="39.3" y="709.2" width="644.1" height="271.7" fill="none" stroke="#cfcfcf" stroke-width="1.1"/>
<text x="421.3" y="926.8" font-size="14.4" text-anchor="middle" fill="#222" stroke="#fff" stroke-width="3.2" stroke-linejoin="round" paint-order="stroke" textLength="8.4" lengthAdjust="spacingAndGlyphs">3</text>
<text x="445.1" y="905" font-size="14.4" text-anchor="middle" fill="#222" stroke="#fff" stroke-width="3.2" stroke-linejoin="round" paint-order="stroke" textLength="16.8" lengthAdjust="spacingAndGlyphs">10</text>
<text x="468.8" y="882.6" font-size="14.4" text-anchor="middle" fill="#222" stroke="#fff" stroke-width="3.2" stroke-linejoin="round" paint-order="stroke" textLength="16.8" lengthAdjust="spacingAndGlyphs">25</text>
<text x="492.6" y="859.6" font-size="14.4" text-anchor="middle" fill="#222" stroke="#fff" stroke-width="3.2" stroke-linejoin="round" paint-order="stroke" textLength="16.8" lengthAdjust="spacingAndGlyphs">50</text>
<text x="515.5" y="838.3" font-size="14.4" text-anchor="middle" fill="#222" stroke="#fff" stroke-width="3.2" stroke-linejoin="round" paint-order="stroke" textLength="16.8" lengthAdjust="spacingAndGlyphs">75</text>
<text x="540.2" y="819" font-size="14.4" text-anchor="middle" fill="#222" stroke="#fff" stroke-width="3.2" stroke-linejoin="round" paint-order="stroke" textLength="16.8" lengthAdjust="spacingAndGlyphs">90</text>
<text x="564" y="799.2" font-size="14.4" text-anchor="middle" fill="#222" stroke="#fff" stroke-width="3.2" stroke-linejoin="round" paint-order="stroke" textLength="16.8" lengthAdjust="spacingAndGlyphs">97</text>
<text class="s" x="336.58" y="731.9" font-size="14" fill="#222" textLength="49.58" lengthAdjust="spacingAndGlyphs">Female</text>
<text class="s" x="32.6" y="986.2" font-size="14.2" text-anchor="end" fill="#222" textLength="8.6" lengthAdjust="spacingAndGlyphs">6</text>
<text class="s" x="32.6" y="968.09" font-size="14.2" text-anchor="end" fill="#222" textLength="8.6" lengthAdjust="spacingAndGlyphs">7</text>
<text class="s" x="32.6" y="949.97" font-size="14.2" text-anchor="end" fill="#222" textLength="8.6" lengthAdjust="spacingAndGlyphs">8</text>
<text class="s" x="32.6" y="931.86" font-size="14.2" text-anchor="end" fill="#222" textLength="8.6" lengthAdjust="spacingAndGlyphs">9</text>
<text class="s" x="32.6" y="913.75" font-size="14.2" text-anchor="end" fill="#222" textLength="17.2" lengthAdjust="spacingAndGlyphs">10</text>
<text class="s" x="32.6" y="895.63" font-size="14.2" text-anchor="end" fill="#222" textLength="17.2" lengthAdjust="spacingAndGlyphs">11</text>
<text class="s" x="32.6" y="877.52" font-size="14.2" text-anchor="end" fill="#222" textLength="17.2" lengthAdjust="spacingAndGlyphs">12</text>
<text class="s" x="32.6" y="859.41" font-size="14.2" text-anchor="end" fill="#222" textLength="17.2" lengthAdjust="spacingAndGlyphs">13</text>
<text class="s" x="32.6" y="841.29" font-size="14.2" text-anchor="end" fill="#222" textLength="17.2" lengthAdjust="spacingAndGlyphs">14</text>
<text class="s" x="32.6" y="823.18" font-size="14.2" text-anchor="end" fill="#222" textLength="17.2" lengthAdjust="spacingAndGlyphs">15</text>
<text class="s" x="32.6" y="805.07" font-size="14.2" text-anchor="end" fill="#222" textLength="17.2" lengthAdjust="spacingAndGlyphs">16</text>
<text class="s" x="32.6" y="786.95" font-size="14.2" text-anchor="end" fill="#222" textLength="17.2" lengthAdjust="spacingAndGlyphs">17</text>
<text class="s" x="32.6" y="768.84" font-size="14.2" text-anchor="end" fill="#222" textLength="17.2" lengthAdjust="spacingAndGlyphs">18</text>
<text class="s" x="32.6" y="750.73" font-size="14.2" text-anchor="end" fill="#222" textLength="17.2" lengthAdjust="spacingAndGlyphs">19</text>
<text class="s" x="32.6" y="732.61" font-size="14.2" text-anchor="end" fill="#222" textLength="17.2" lengthAdjust="spacingAndGlyphs">20</text>
<text class="s" transform="translate(12.62,895.25) rotate(-90)" x="0" y="0" font-size="16.5" fill="#222" textLength="77.49" lengthAdjust="spacingAndGlyphs">iTMT, mm</text>
<text class="s" x="39.5" y="998" font-size="14.2" text-anchor="middle" fill="#222" textLength="8.6" lengthAdjust="spacingAndGlyphs">4</text>
<text class="s" x="63.36" y="998" font-size="14.2" text-anchor="middle" fill="#222" textLength="8.6" lengthAdjust="spacingAndGlyphs">5</text>
<text class="s" x="87.22" y="998" font-size="14.2" text-anchor="middle" fill="#222" textLength="8.6" lengthAdjust="spacingAndGlyphs">6</text>
<text class="s" x="111.08" y="998" font-size="14.2" text-anchor="middle" fill="#222" textLength="8.6" lengthAdjust="spacingAndGlyphs">7</text>
<text class="s" x="134.94" y="998" font-size="14.2" text-anchor="middle" fill="#222" textLength="8.6" lengthAdjust="spacingAndGlyphs">8</text>
<text class="s" x="158.8" y="998" font-size="14.2" text-anchor="middle" fill="#222" textLength="8.6" lengthAdjust="spacingAndGlyphs">9</text>
<text class="s" x="182.66" y="998" font-size="14.2" text-anchor="middle" fill="#222" textLength="17.2" lengthAdjust="spacingAndGlyphs">10</text>
<text class="s" x="206.52" y="998" font-size="14.2" text-anchor="middle" fill="#222" textLength="17.2" lengthAdjust="spacingAndGlyphs">11</text>
<text class="s" x="230.38" y="998" font-size="14.2" text-anchor="middle" fill="#222" textLength="17.2" lengthAdjust="spacingAndGlyphs">12</text>
<text class="s" x="254.24" y="998" font-size="14.2" text-anchor="middle" fill="#222" textLength="17.2" lengthAdjust="spacingAndGlyphs">13</text>
<text class="s" x="278.1" y="998" font-size="14.2" text-anchor="middle" fill="#222" textLength="17.2" lengthAdjust="spacingAndGlyphs">14</text>
<text class="s" x="301.96" y="998" font-size="14.2" text-anchor="middle" fill="#222" textLength="17.2" lengthAdjust="spacingAndGlyphs">15</text>
<text class="s" x="325.82" y="998" font-size="14.2" text-anchor="middle" fill="#222" textLength="17.2" lengthAdjust="spacingAndGlyphs">16</text>
<text class="s" x="349.68" y="998" font-size="14.2" text-anchor="middle" fill="#222" textLength="17.2" lengthAdjust="spacingAndGlyphs">17</text>
<text class="s" x="373.54" y="998" font-size="14.2" text-anchor="middle" fill="#222" textLength="17.2" lengthAdjust="spacingAndGlyphs">18</text>
<text class="s" x="397.4" y="998" font-size="14.2" text-anchor="middle" fill="#222" textLength="17.2" lengthAdjust="spacingAndGlyphs">19</text>
<text class="s" x="421.26" y="998" font-size="14.2" text-anchor="middle" fill="#222" textLength="17.2" lengthAdjust="spacingAndGlyphs">20</text>
<text class="s" x="445.12" y="998" font-size="14.2" text-anchor="middle" fill="#222" textLength="17.2" lengthAdjust="spacingAndGlyphs">21</text>
<text class="s" x="468.98" y="998" font-size="14.2" text-anchor="middle" fill="#222" textLength="17.2" lengthAdjust="spacingAndGlyphs">22</text>
<text class="s" x="492.84" y="998" font-size="14.2" text-anchor="middle" fill="#222" textLength="17.2" lengthAdjust="spacingAndGlyphs">23</text>
<text class="s" x="516.7" y="998" font-size="14.2" text-anchor="middle" fill="#222" textLength="17.2" lengthAdjust="spacingAndGlyphs">24</text>
<text class="s" x="540.56" y="998" font-size="14.2" text-anchor="middle" fill="#222" textLength="17.2" lengthAdjust="spacingAndGlyphs">25</text>
<text class="s" x="564.42" y="998" font-size="14.2" text-anchor="middle" fill="#222" textLength="17.2" lengthAdjust="spacingAndGlyphs">26</text>
<text class="s" x="588.28" y="998" font-size="14.2" text-anchor="middle" fill="#222" textLength="17.2" lengthAdjust="spacingAndGlyphs">27</text>
<text class="s" x="612.14" y="998" font-size="14.2" text-anchor="middle" fill="#222" textLength="17.2" lengthAdjust="spacingAndGlyphs">28</text>
<text class="s" x="636" y="998" font-size="14.2" text-anchor="middle" fill="#222" textLength="17.2" lengthAdjust="spacingAndGlyphs">29</text>
<text class="s" x="659.86" y="998" font-size="14.2" text-anchor="middle" fill="#222" textLength="17.2" lengthAdjust="spacingAndGlyphs">30</text>
<text class="s" x="364.57" y="1015.5" font-size="16.3" fill="#222" textLength="29.98" lengthAdjust="spacingAndGlyphs">Age</text>
</svg></body></html>
